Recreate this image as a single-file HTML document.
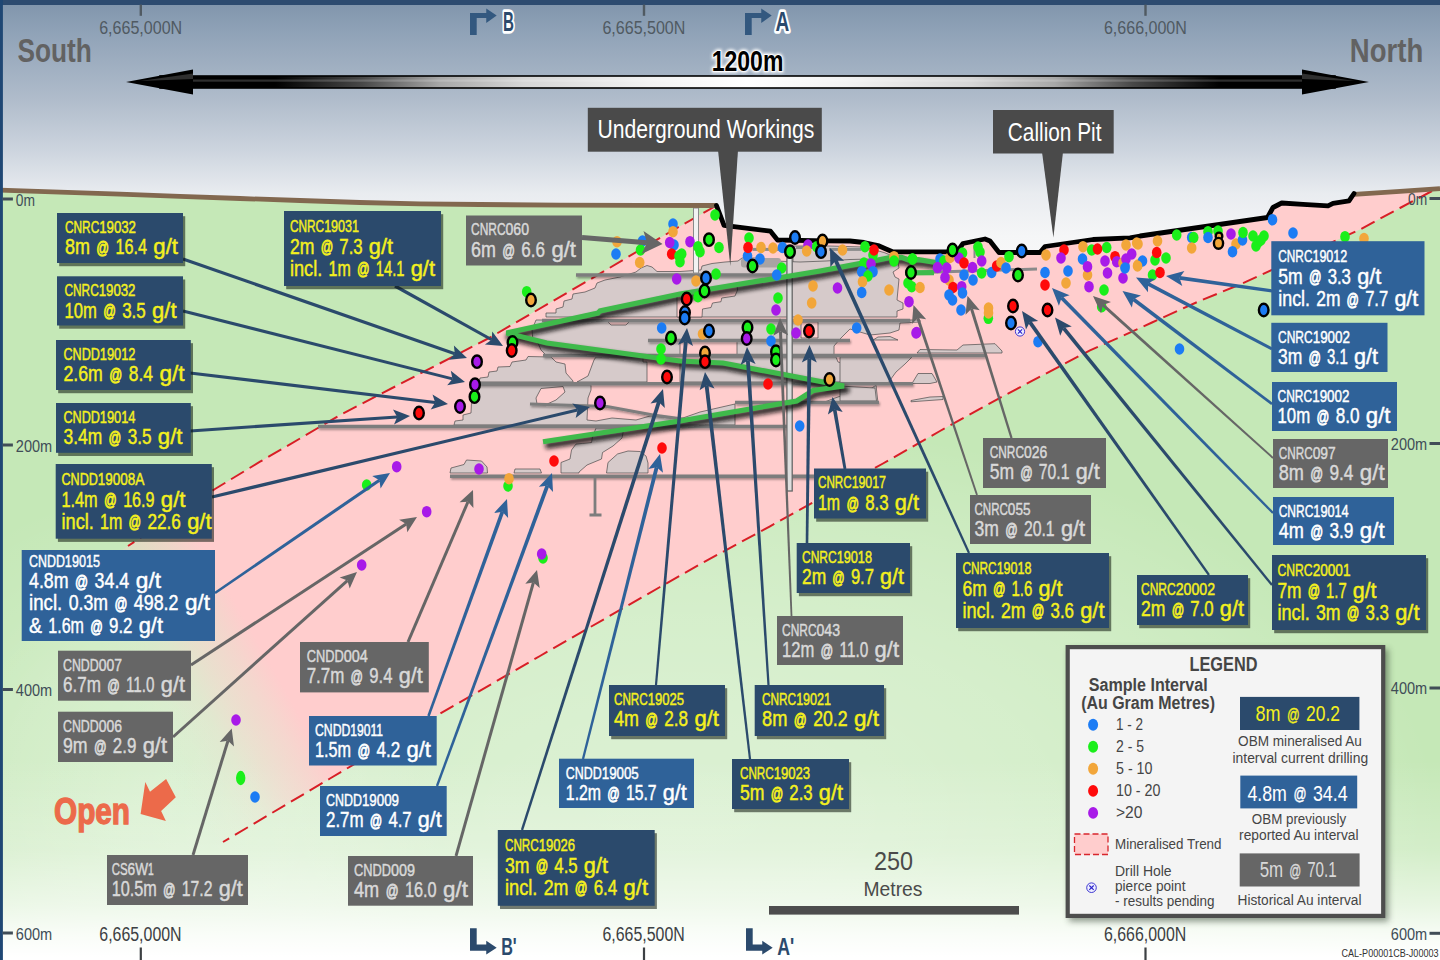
<!DOCTYPE html>
<html><head><meta charset="utf-8"><title>Callion long section</title>
<style>
html,body{margin:0;padding:0;background:#fff;}
body{width:1440px;height:960px;overflow:hidden;font-family:"Liberation Sans",sans-serif;}
svg{display:block;}
text{font-family:"Liberation Sans",sans-serif;}
</style></head><body>
<svg width="1440" height="960" viewBox="0 0 1440 960">
<defs>
<linearGradient id="sky" x1="0" y1="0" x2="0" y2="1">
<stop offset="0" stop-color="#7f94ab"/><stop offset="0.12" stop-color="#8fa2b7"/><stop offset="0.38" stop-color="#b0bccb"/><stop offset="0.57" stop-color="#ccd4de"/><stop offset="0.74" stop-color="#e9ecf0"/><stop offset="0.9" stop-color="#f5f6f7"/><stop offset="1" stop-color="#f8f8f8"/>
</linearGradient>
<linearGradient id="fadeb" x1="0" y1="0" x2="0" y2="1">
<stop offset="0" stop-color="#fff" stop-opacity="0"/><stop offset="0.45" stop-color="#fff" stop-opacity="0.25"/><stop offset="0.725" stop-color="#fff" stop-opacity="0.6"/><stop offset="0.875" stop-color="#fff" stop-opacity="0.87"/><stop offset="0.985" stop-color="#fff" stop-opacity="1"/><stop offset="1" stop-color="#fff" stop-opacity="1"/>
</linearGradient>
<radialGradient id="glow2" cx="0.5" cy="0.5" r="0.5">
<stop offset="0" stop-color="#fff" stop-opacity="0.38"/><stop offset="0.25" stop-color="#fff" stop-opacity="0.356"/><stop offset="0.5" stop-color="#fff" stop-opacity="0.285"/><stop offset="0.7" stop-color="#fff" stop-opacity="0.194"/><stop offset="0.85" stop-color="#fff" stop-opacity="0.105"/><stop offset="1" stop-color="#fff" stop-opacity="0"/>
</radialGradient>
<radialGradient id="fadeo" cx="0.5" cy="0.5" r="0.5">
<stop offset="0" stop-color="#fff" stop-opacity="0.22"/><stop offset="0.5" stop-color="#fff" stop-opacity="0.16"/><stop offset="1" stop-color="#fff" stop-opacity="0"/>
</radialGradient>
<linearGradient id="pinkg" gradientUnits="userSpaceOnUse" x1="350" y1="749" x2="205" y2="832">
<stop offset="0" stop-color="#ffcdcd" stop-opacity="1"/><stop offset="0.16" stop-color="#ffcdcd" stop-opacity="1"/><stop offset="0.30" stop-color="#ffcdcd" stop-opacity="0.74"/><stop offset="0.51" stop-color="#ffcdcd" stop-opacity="0.42"/><stop offset="0.64" stop-color="#ffcdcd" stop-opacity="0.2"/><stop offset="0.8" stop-color="#ffcdcd" stop-opacity="0.07"/><stop offset="1" stop-color="#ffcdcd" stop-opacity="0"/>
</linearGradient>
<linearGradient id="shaft" gradientUnits="userSpaceOnUse" x1="126" y1="0" x2="1369" y2="0">
<stop offset="0" stop-color="#000"/><stop offset="0.12" stop-color="#000"/><stop offset="0.19" stop-color="#484848"/><stop offset="0.253" stop-color="#a8a8a8"/><stop offset="0.32" stop-color="#d6d6d6"/><stop offset="0.42" stop-color="#f2f2f2"/><stop offset="0.5" stop-color="#fff"/><stop offset="0.58" stop-color="#f2f2f2"/><stop offset="0.68" stop-color="#d6d6d6"/><stop offset="0.747" stop-color="#a8a8a8"/><stop offset="0.81" stop-color="#484848"/><stop offset="0.88" stop-color="#000"/><stop offset="1" stop-color="#000"/>
</linearGradient>
<linearGradient id="gloss" x1="0" y1="0" x2="0" y2="1">
<stop offset="0" stop-color="#000"/><stop offset="0.4" stop-color="#4a4a4a"/><stop offset="0.6" stop-color="#2a2a2a"/><stop offset="1" stop-color="#000"/>
</linearGradient>
<filter id="sh" x="-10%" y="-10%" width="125%" height="130%"><feGaussianBlur stdDeviation="0.55"/></filter>
<filter id="sh3" x="-10%" y="-10%" width="125%" height="125%"><feGaussianBlur stdDeviation="3"/></filter>
<filter id="gsh" x="-5%" y="-20%" width="110%" height="150%"><feGaussianBlur stdDeviation="1.9"/></filter>
<filter id="lsh" x="-2%" y="-2%" width="104%" height="106%"><feDropShadow dx="1" dy="1.6" stdDeviation="0.9" flood-color="#000" flood-opacity="0.38"/></filter>
<filter id="glow" x="-20%" y="-40%" width="140%" height="180%"><feGaussianBlur stdDeviation="1.6"/></filter>
</defs>

<rect x="0" y="0" width="1440" height="960" fill="#c5e8b7"/>
<rect x="0" y="0" width="1440" height="262" fill="url(#sky)"/>
<polygon points="0.0,190.1 60.0,192.1 120.0,194.2 180.0,196.3 240.0,198.5 300.0,200.5 360.0,202.5 420.0,203.8 480.0,204.5 560.0,205.2 640.0,205.4 716.5,205.5 724.0,225.3 736.0,226.8 770.5,231.2 777.5,240.0 826.0,240.8 850.0,241.0 864.0,242.5 878.0,245.5 886.0,249.0 892.5,251.8 957.0,251.8 963.0,243.5 985.0,239.0 990.0,241.0 999.0,252.5 1040.0,252.5 1045.0,246.5 1093.0,239.5 1130.0,237.8 1140.0,236.0 1267.5,217.5 1273.0,207.5 1281.7,203.0 1303.0,204.3 1328.0,205.8 1333.0,203.3 1349.0,200.8 1354.0,193.5 1400.0,191.3 1440.0,188.7 1440.0,960.0 0.0,960.0" fill="#c5e8b7"/>
<ellipse cx="680" cy="812" rx="760" ry="395" fill="url(#glow2)"/>
<circle cx="150" cy="790" r="300" fill="url(#fadeo)"/>
<rect x="0" y="760" width="1440" height="200" fill="url(#fadeb)"/>
<polygon points="716.5,205.5 724.0,225.3 736.0,226.8 770.5,231.2 777.5,240.0 826.0,240.8 850.0,241.0 864.0,242.5 878.0,245.5 886.0,249.0 892.5,251.8 957.0,251.8 963.0,243.5 985.0,239.0 990.0,241.0 999.0,252.5 1040.0,252.5 1045.0,246.5 1093.0,239.5 1130.0,237.8 1140.0,236.0 1267.5,217.5 1273.0,207.5 1281.7,203.0 1303.0,204.3 1328.0,205.8 1333.0,203.3 1349.0,200.8 1354.0,193.5 1400.0,191.3 1432.0,190.0 1400.0,208.0 1360.0,229.5 1300.0,257.0 1240.0,284.5 1200.0,300.8 1152.0,322.5 1120.0,337.1 1090.0,350.3 1000.0,397.8 940.0,431.0 883.0,463.5 770.0,526.3 700.0,564.2 660.0,587.0 540.0,656.0 437.5,715.2 330.0,778.5 223.0,842.0 150.0,886.0 40.0,606.0 128.0,546.0 215.0,489.0 260.0,461.7 300.0,438.5 340.0,415.0 490.0,337.5 587.5,281.0 670.0,232.0" fill="url(#pinkg)"/>
<polyline points="716.5,205.5 670.0,232.0 587.5,281.0 490.0,337.5 340.0,415.0 300.0,438.5 260.0,461.7 215.0,489.0 128.0,546.0" fill="none" stroke="#d81e26" stroke-width="2" stroke-dasharray="15 6.7"/>
<polyline points="1432.0,191.0 1400.0,208.0 1360.0,229.5 1300.0,257.0 1240.0,284.5 1200.0,300.8 1152.0,322.5 1120.0,337.1 1090.0,350.3 1000.0,397.8 940.0,431.0 883.0,463.5 770.0,526.3 700.0,564.2 660.0,587.0 540.0,656.0 437.5,715.2 330.0,778.5 223.0,842.0" fill="none" stroke="#d81e26" stroke-width="2" stroke-dasharray="15 6.7"/>
<g><polygon points="793.0,246.0 829.0,246.0 864.0,247.0 884.0,252.5 893.0,256.0 893.0,258.5 861.0,264.0 820.0,271.5 793.0,276.0" fill="#d6caca" stroke="#4a4a4a" stroke-width="0.7"/><polygon points="546.0,317.0 546.0,313.0 556.0,313.0 556.0,309.0 563.0,307.0 564.0,301.0 572.0,299.0 573.0,294.0 585.0,292.0 595.0,288.0 597.0,283.0 605.0,280.0 620.0,277.0 636.0,272.0 641.0,268.0 647.0,265.5 652.0,267.0 657.0,271.5 680.0,271.5 701.0,270.0 702.0,266.0 712.0,263.5 725.0,262.0 738.0,261.0 742.0,258.0 760.0,258.0 775.0,261.0 800.0,262.0 826.0,261.0 850.0,259.5 893.0,258.5 898.0,262.0 899.0,268.0 893.0,272.0 895.0,277.0 899.0,279.0 897.0,300.0 903.0,303.0 903.0,309.0 897.0,311.0 897.0,317.0" fill="#d6caca" stroke="#4a4a4a" stroke-width="0.7"/><polygon points="536.0,320.0 920.0,320.0 920.0,322.0 900.0,323.0 899.0,330.0 890.0,333.0 870.0,335.0 850.0,329.0 846.0,333.0 840.0,339.0 834.0,346.0 834.0,355.0 546.0,355.0 541.0,350.0 538.0,343.0 533.0,341.0 532.0,330.0" fill="#d6caca" stroke="#4a4a4a" stroke-width="0.7"/><polygon points="479.0,382.0 480.0,378.0 488.0,377.0 489.0,372.0 497.0,371.0 498.0,367.0 510.0,366.5 512.0,362.0 526.0,360.0 528.0,356.5 551.0,357.0 556.0,362.0 565.0,364.0 566.0,373.0 573.0,381.0 573.0,382.0" fill="#d6caca" stroke="#4a4a4a" stroke-width="0.7"/><polygon points="577.0,382.0 588.0,376.0 594.0,360.0 596.0,357.0 643.0,357.0 643.0,362.0 647.0,362.0 647.0,382.0" fill="#d6caca" stroke="#4a4a4a" stroke-width="0.7"/><polygon points="680.0,363.0 702.0,363.0 706.0,357.0 787.0,357.0 793.0,357.0 836.0,357.0 838.0,362.0 846.0,364.0 852.0,360.0 870.0,360.0 878.0,366.0 877.0,372.0 868.0,378.0 858.0,382.0 680.0,382.0" fill="#d6caca" stroke="#4a4a4a" stroke-width="0.7"/><polygon points="454.0,425.0 455.0,421.0 463.0,420.0 463.0,415.0 471.0,413.0 472.0,391.0 479.0,390.0 480.0,385.0 591.0,385.0 591.0,390.0 588.0,398.0 587.0,420.0 596.0,421.0 612.0,418.0 636.0,420.0 650.0,416.0 680.0,419.0 700.0,412.0 735.0,404.0 735.0,425.0" fill="#d6caca" stroke="#4a4a4a" stroke-width="0.7"/><polygon points="735.0,403.0 790.0,403.0 822.0,403.0 835.0,398.0 852.0,392.0 872.0,388.0 876.0,385.0 878.0,403.0 735.0,403.0" fill="#d6caca" stroke="#4a4a4a" stroke-width="0.7"/><polygon points="561.0,473.0 561.0,462.5 570.0,459.0 571.5,450.0 576.0,444.0 591.5,442.5 592.5,437.0 596.0,428.0 623.0,428.0 623.0,433.0 622.0,438.0 613.0,446.0 602.5,452.5 601.5,459.0 587.0,465.0 579.0,472.0 579.0,473.0" fill="#d6caca" stroke="#4a4a4a" stroke-width="0.7"/><polygon points="606.5,473.0 608.0,462.5 617.5,454.0 628.0,451.0 640.0,451.5 646.0,456.0 648.0,463.0 648.0,473.0" fill="#d6caca" stroke="#4a4a4a" stroke-width="0.7"/><polygon points="450.0,473.0 451.0,468.0 464.0,464.5 466.5,460.0 481.5,461.0 487.0,467.0 487.5,473.0" fill="#d6caca" stroke="#4a4a4a" stroke-width="0.7"/><polygon points="514.0,473.0 515.0,469.0 540.0,469.0 541.5,473.0" fill="#d6caca" stroke="#4a4a4a" stroke-width="0.7"/><polygon points="873.0,340.0 878.0,337.0 890.0,336.5 898.0,340.0" fill="#d6caca" stroke="#4a4a4a" stroke-width="0.7"/><polygon points="917.0,353.0 920.0,349.5 957.0,350.0 963.0,345.0 995.0,343.7 1002.0,351.0 1002.0,353.0" fill="#d6caca" stroke="#4a4a4a" stroke-width="0.7"/><polygon points="912.0,383.5 918.0,373.5 932.0,373.5 937.0,382.0 930.0,383.5" fill="#d6caca" stroke="#4a4a4a" stroke-width="0.7"/><polygon points="911.0,400.5 930.0,397.0 943.0,396.5 943.0,399.5 911.0,401.8" fill="#d6caca" stroke="#4a4a4a" stroke-width="0.7"/><polygon points="840.0,357.0 912.0,357.0 905.0,364.0 896.0,372.0 888.0,383.0 840.0,383.0" fill="#d6caca" stroke="#4a4a4a" stroke-width="0.7"/><polygon points="840.0,386.0 875.0,388.0 876.5,401.0 840.0,401.0" fill="#d6caca" stroke="#4a4a4a" stroke-width="0.7"/><polygon points="801.0,322.0 818.0,322.0 818.0,338.0 801.0,338.0" fill="#ffcdcd" stroke="#4a4a4a" stroke-width="0.7"/><polygon points="536.0,398.0 541.0,388.5 563.0,386.5 565.0,392.0 556.0,400.0 545.0,405.0 537.0,404.0" fill="#ffcdcd" stroke="#4a4a4a" stroke-width="0.7"/><polygon points="607.0,321.0 630.0,321.0 626.0,325.0 611.0,325.0" fill="#ffcdcd" stroke="#4a4a4a" stroke-width="0.7"/><polygon points="680.0,340.0 737.0,340.0 737.0,355.0 680.0,355.0" fill="#ffcdcd" stroke="#4a4a4a" stroke-width="0.7"/><polygon points="677.0,296.0 737.0,285.0 737.5,290.0 735.0,296.0 721.7,298.0 721.0,301.7 712.5,303.0 711.0,307.5 702.5,309.0 702.0,317.0 677.0,317.0" fill="#ffcdcd" stroke="#4a4a4a" stroke-width="0.7"/><rect x="741" y="258" width="40" height="9.5" rx="3" fill="#a9a3a3"/><line x1="752.5" y1="249.4" x2="784.0" y2="249.4" stroke="#8c8c8c" stroke-width="3"/><line x1="829.0" y1="249.4" x2="861.0" y2="249.4" stroke="#8c8c8c" stroke-width="3"/><line x1="796.0" y1="247.5" x2="822.0" y2="247.5" stroke="#8c8c8c" stroke-width="3"/><line x1="905" y1="273" x2="1037" y2="269" stroke="#8a8a8a" stroke-width="3"/><line x1="974.5" y1="245" x2="974.5" y2="258" stroke="#8a8a8a" stroke-width="2"/><g filter="url(#lsh)"><line x1="576.0" y1="275.0" x2="778.0" y2="275.0" stroke="#7d7d7d" stroke-width="3.4"/><line x1="542.0" y1="320.5" x2="910.0" y2="320.5" stroke="#7d7d7d" stroke-width="3.4"/><line x1="648.0" y1="340.5" x2="850.0" y2="340.5" stroke="#7d7d7d" stroke-width="3.4"/><line x1="543.0" y1="355.5" x2="985.0" y2="355.5" stroke="#7d7d7d" stroke-width="3.4"/><line x1="474.0" y1="383.8" x2="913.0" y2="383.8" stroke="#7d7d7d" stroke-width="3.4"/><line x1="735.0" y1="402.5" x2="879.0" y2="402.5" stroke="#7d7d7d" stroke-width="3.4"/><line x1="318.0" y1="426.5" x2="787.0" y2="426.5" stroke="#7d7d7d" stroke-width="3.4"/><line x1="450.0" y1="476.3" x2="815.0" y2="476.3" stroke="#7d7d7d" stroke-width="3.4"/><polyline points="530,404 607,406.5 653,415 690,420" fill="none" stroke="#7d7d7d" stroke-width="3"/></g><rect x="693.5" y="208" width="5" height="65" fill="#f2f2f2" stroke="#8a8a8a" stroke-width="1"/><rect x="786.9" y="258" width="5.3" height="233" fill="#dedede" stroke="#666" stroke-width="1.3"/><rect x="593.6" y="476" width="2.8" height="38" fill="#7d7d7d"/><rect x="589.5" y="513.5" width="12" height="3" fill="#7d7d7d"/><polyline points="543.0,441.7 680.0,421.0 796.7,401.0 813.0,390.5 844.0,386.0 723.0,363.0 680.0,361.0 546.7,343.0 506.5,333.0 598.0,313.0 600.0,311.0 680.0,294.0 820.0,271.0 861.0,263.4 889.0,257.8 901.5,257.3 908.0,259.8 918.4,259.7 936.0,262.5" fill="none" stroke="#111" stroke-width="6.5" opacity="0.85" filter="url(#gsh)" transform="translate(2.5,4)" stroke-linejoin="round"/><polyline points="543.0,441.7 680.0,421.0 796.7,401.0 813.0,390.5 844.0,386.0 723.0,363.0 680.0,361.0 546.7,343.0 506.5,333.0 598.0,313.0 600.0,311.0 680.0,294.0 820.0,271.0 861.0,263.4 889.0,257.8 901.5,257.3 908.0,259.8 918.4,259.7 936.0,262.5" fill="none" stroke="#3fba4b" stroke-width="5.2" stroke-linejoin="miter"/><polyline points="905.0,272.8 934.0,272.6" fill="none" stroke="#3fba4b" stroke-width="5.2"/></g>
<polyline points="0.0,190.1 60.0,192.1 120.0,194.2 180.0,196.3 240.0,198.5 300.0,200.5 360.0,202.5 420.0,203.8 480.0,204.5 560.0,205.2 640.0,205.4 716.5,205.5" fill="none" stroke="#82684f" stroke-width="4.8" stroke-linejoin="round"/>
<polyline points="1354.0,194.3 1400.0,191.3 1440.0,188.7" fill="none" stroke="#82684f" stroke-width="4.8"/>
<polyline points="716.5,205.5 724.0,225.3 736.0,226.8 770.5,231.2 777.5,240.0 826.0,240.8 850.0,241.0 864.0,242.5 878.0,245.5 886.0,249.0 892.5,251.8 957.0,251.8 963.0,243.5 985.0,239.0 990.0,241.0 999.0,252.5 1040.0,252.5 1045.0,246.5 1093.0,239.5 1130.0,237.8 1140.0,236.0 1267.5,217.5 1273.0,207.5 1281.7,203.0 1303.0,204.3 1328.0,205.8 1333.0,203.3 1349.0,200.8 1354.0,193.5" fill="none" stroke="#000" stroke-width="4.8" stroke-linejoin="round" stroke-linecap="round"/>
<rect x="0" y="0" width="1440" height="5" fill="#2d4b70"/>
<rect x="0" y="0" width="2.9" height="960" fill="#1f4774"/>
<ellipse cx="366.7" cy="485.0" rx="4.8" ry="5.8" fill="#1aef1a"/>
<ellipse cx="396.7" cy="466.7" rx="4.8" ry="5.8" fill="#a81ae8"/>
<ellipse cx="426.7" cy="511.7" rx="4.8" ry="5.8" fill="#a81ae8"/>
<ellipse cx="361.7" cy="565.0" rx="4.8" ry="5.8" fill="#a81ae8"/>
<ellipse cx="236.0" cy="720.0" rx="4.8" ry="5.8" fill="#a81ae8"/>
<ellipse cx="240.7" cy="778.0" rx="4.7" ry="7.2" fill="#1aef1a"/>
<ellipse cx="255.0" cy="797.0" rx="4.8" ry="5.8" fill="#1c7cf4"/>
<ellipse cx="543.0" cy="558.0" rx="4.8" ry="5.8" fill="#1aef1a"/>
<ellipse cx="541.7" cy="554.0" rx="4.8" ry="5.8" fill="#a81ae8"/>
<ellipse cx="479.0" cy="469.0" rx="4.8" ry="5.8" fill="#a81ae8"/>
<ellipse cx="508.0" cy="486.0" rx="4.8" ry="5.8" fill="#1aef1a"/>
<ellipse cx="509.0" cy="478.7" rx="4.8" ry="5.8" fill="#f2a63a"/>
<ellipse cx="554.0" cy="461.0" rx="4.8" ry="5.8" fill="#ff0a0a"/>
<ellipse cx="662.0" cy="448.0" rx="4.8" ry="5.8" fill="#ff0a0a"/>
<ellipse cx="419.0" cy="413.0" rx="4.8" ry="6.2" fill="#ff0a0a" stroke="#000" stroke-width="2.4"/>
<ellipse cx="460.0" cy="406.5" rx="4.8" ry="6.2" fill="#a81ae8" stroke="#000" stroke-width="2.4"/>
<ellipse cx="474.5" cy="396.7" rx="4.8" ry="6.2" fill="#1aef1a" stroke="#000" stroke-width="2.4"/>
<ellipse cx="475.0" cy="384.7" rx="4.8" ry="6.2" fill="#a81ae8" stroke="#000" stroke-width="2.4"/>
<ellipse cx="477.0" cy="361.7" rx="4.8" ry="6.2" fill="#a81ae8" stroke="#000" stroke-width="2.4"/>
<ellipse cx="512.5" cy="342.5" rx="4.8" ry="6.2" fill="#1aef1a" stroke="#000" stroke-width="2.4"/>
<ellipse cx="511.7" cy="350.5" rx="4.8" ry="6.2" fill="#ff0a0a" stroke="#000" stroke-width="2.4"/>
<ellipse cx="600.0" cy="403.0" rx="4.8" ry="6.2" fill="#a81ae8" stroke="#000" stroke-width="2.4"/>
<ellipse cx="526.7" cy="291.7" rx="4.8" ry="5.8" fill="#1aef1a"/>
<ellipse cx="531.0" cy="300.0" rx="4.8" ry="6.2" fill="#f2a63a" stroke="#000" stroke-width="2.4"/>
<ellipse cx="617.0" cy="241.7" rx="4.8" ry="5.8" fill="#f2a63a"/>
<ellipse cx="616.0" cy="254.0" rx="4.8" ry="5.8" fill="#1c7cf4"/>
<ellipse cx="642.5" cy="241.0" rx="4.8" ry="5.8" fill="#1c7cf4"/>
<ellipse cx="640.5" cy="250.0" rx="4.8" ry="5.8" fill="#1aef1a"/>
<ellipse cx="639.7" cy="262.5" rx="4.8" ry="5.8" fill="#f2a63a"/>
<ellipse cx="673.0" cy="224.0" rx="4.8" ry="5.8" fill="#1c7cf4"/>
<ellipse cx="673.0" cy="231.7" rx="4.8" ry="5.8" fill="#f2a63a"/>
<ellipse cx="674.0" cy="245.0" rx="4.8" ry="5.8" fill="#1c7cf4"/>
<ellipse cx="669.7" cy="242.5" rx="4.8" ry="5.8" fill="#a81ae8"/>
<ellipse cx="671.7" cy="254.0" rx="4.8" ry="5.8" fill="#ff0a0a"/>
<ellipse cx="679.0" cy="256.0" rx="4.8" ry="5.8" fill="#1aef1a"/>
<ellipse cx="676.7" cy="279.0" rx="4.8" ry="5.8" fill="#a81ae8"/>
<ellipse cx="661.7" cy="328.0" rx="4.8" ry="5.8" fill="#1c7cf4"/>
<ellipse cx="671.0" cy="338.0" rx="4.8" ry="6.2" fill="#1aef1a" stroke="#000" stroke-width="2.4"/>
<ellipse cx="661.0" cy="349.0" rx="4.8" ry="5.8" fill="#1aef1a"/>
<ellipse cx="661.0" cy="359.0" rx="4.8" ry="5.8" fill="#1aef1a"/>
<ellipse cx="667.0" cy="377.0" rx="4.8" ry="6.2" fill="#ff0a0a" stroke="#000" stroke-width="2.4"/>
<ellipse cx="690.0" cy="241.7" rx="4.8" ry="5.8" fill="#a81ae8"/>
<ellipse cx="681.7" cy="254.0" rx="4.8" ry="5.8" fill="#1aef1a"/>
<ellipse cx="680.0" cy="261.7" rx="4.8" ry="5.8" fill="#1aef1a"/>
<ellipse cx="698.0" cy="246.7" rx="4.8" ry="5.8" fill="#1aef1a"/>
<ellipse cx="700.0" cy="251.7" rx="4.8" ry="5.8" fill="#1aef1a"/>
<ellipse cx="709.0" cy="239.7" rx="4.8" ry="6.2" fill="#1aef1a" stroke="#000" stroke-width="2.4"/>
<ellipse cx="715.0" cy="215.0" rx="4.8" ry="5.8" fill="#1aef1a"/>
<ellipse cx="719.0" cy="247.5" rx="4.8" ry="5.8" fill="#1aef1a"/>
<ellipse cx="749.0" cy="238.0" rx="4.8" ry="5.8" fill="#1aef1a"/>
<ellipse cx="747.5" cy="256.0" rx="4.8" ry="5.8" fill="#1c7cf4"/>
<ellipse cx="748.0" cy="247.5" rx="4.8" ry="5.8" fill="#ff0a0a"/>
<ellipse cx="761.0" cy="247.5" rx="4.8" ry="5.8" fill="#f2a63a"/>
<ellipse cx="760.0" cy="259.0" rx="4.8" ry="5.8" fill="#1c7cf4"/>
<ellipse cx="752.5" cy="266.0" rx="4.8" ry="6.2" fill="#1aef1a" stroke="#000" stroke-width="2.4"/>
<ellipse cx="773.0" cy="248.0" rx="4.8" ry="5.8" fill="#f2a63a"/>
<ellipse cx="782.5" cy="247.5" rx="4.8" ry="5.8" fill="#1c7cf4"/>
<ellipse cx="790.0" cy="251.7" rx="4.8" ry="6.2" fill="#1aef1a" stroke="#000" stroke-width="2.4"/>
<ellipse cx="795.0" cy="237.5" rx="4.8" ry="6.2" fill="#1c7cf4" stroke="#000" stroke-width="2.4"/>
<ellipse cx="808.0" cy="245.0" rx="4.8" ry="5.8" fill="#a81ae8"/>
<ellipse cx="806.7" cy="251.0" rx="4.8" ry="5.8" fill="#f2a63a"/>
<ellipse cx="816.7" cy="246.7" rx="4.8" ry="5.8" fill="#1aef1a"/>
<ellipse cx="822.5" cy="241.0" rx="4.8" ry="6.2" fill="#f2a63a" stroke="#000" stroke-width="2.4"/>
<ellipse cx="821.0" cy="251.7" rx="4.8" ry="6.2" fill="#1c7cf4" stroke="#000" stroke-width="2.4"/>
<ellipse cx="842.5" cy="250.0" rx="4.8" ry="5.8" fill="#f2a63a"/>
<ellipse cx="865.0" cy="246.7" rx="4.8" ry="5.8" fill="#1aef1a"/>
<ellipse cx="873.0" cy="255.0" rx="4.8" ry="5.8" fill="#1aef1a"/>
<ellipse cx="874.0" cy="250.0" rx="4.8" ry="5.8" fill="#ff0a0a"/>
<ellipse cx="864.0" cy="263.0" rx="4.8" ry="5.8" fill="#1aef1a"/>
<ellipse cx="871.0" cy="264.0" rx="4.8" ry="5.8" fill="#a81ae8"/>
<ellipse cx="861.7" cy="271.7" rx="4.8" ry="5.8" fill="#1c7cf4"/>
<ellipse cx="873.0" cy="271.7" rx="4.8" ry="5.8" fill="#1c7cf4"/>
<ellipse cx="868.0" cy="276.0" rx="4.8" ry="5.8" fill="#1aef1a"/>
<ellipse cx="862.5" cy="281.7" rx="4.8" ry="5.8" fill="#f2a63a"/>
<ellipse cx="861.7" cy="292.5" rx="4.8" ry="5.8" fill="#1c7cf4"/>
<ellipse cx="894.0" cy="256.7" rx="4.8" ry="5.8" fill="#f2a63a"/>
<ellipse cx="894.0" cy="261.0" rx="4.8" ry="5.8" fill="#1aef1a"/>
<ellipse cx="912.5" cy="259.0" rx="4.8" ry="5.8" fill="#1aef1a"/>
<ellipse cx="908.0" cy="283.0" rx="4.8" ry="5.8" fill="#1aef1a"/>
<ellipse cx="911.7" cy="286.7" rx="4.8" ry="5.8" fill="#1aef1a"/>
<ellipse cx="911.0" cy="272.5" rx="4.8" ry="6.2" fill="#1aef1a" stroke="#000" stroke-width="2.4"/>
<ellipse cx="889.0" cy="290.0" rx="4.8" ry="5.8" fill="#f2a63a"/>
<ellipse cx="909.0" cy="301.7" rx="4.8" ry="5.8" fill="#a81ae8"/>
<ellipse cx="837.5" cy="288.0" rx="4.8" ry="5.8" fill="#a81ae8"/>
<ellipse cx="813.0" cy="286.0" rx="4.8" ry="5.8" fill="#f2a63a"/>
<ellipse cx="811.7" cy="303.0" rx="4.8" ry="5.8" fill="#f2a63a"/>
<ellipse cx="798.0" cy="320.0" rx="4.8" ry="5.8" fill="#f2a63a"/>
<ellipse cx="796.0" cy="333.0" rx="4.8" ry="5.8" fill="#a81ae8"/>
<ellipse cx="809.0" cy="331.0" rx="4.8" ry="6.2" fill="#ff0a0a" stroke="#000" stroke-width="2.4"/>
<ellipse cx="856.7" cy="328.0" rx="4.8" ry="5.8" fill="#1c7cf4"/>
<ellipse cx="916.7" cy="332.5" rx="4.8" ry="5.8" fill="#a81ae8"/>
<ellipse cx="781.7" cy="268.0" rx="4.8" ry="5.8" fill="#1aef1a"/>
<ellipse cx="776.7" cy="275.0" rx="4.8" ry="5.8" fill="#1c7cf4"/>
<ellipse cx="778.0" cy="298.0" rx="4.8" ry="5.8" fill="#1aef1a"/>
<ellipse cx="776.0" cy="310.0" rx="4.8" ry="5.8" fill="#a81ae8"/>
<ellipse cx="771.0" cy="329.0" rx="4.8" ry="5.8" fill="#1aef1a"/>
<ellipse cx="771.0" cy="341.0" rx="4.8" ry="5.8" fill="#1c7cf4"/>
<ellipse cx="776.0" cy="351.7" rx="4.8" ry="6.2" fill="#1aef1a" stroke="#000" stroke-width="2.4"/>
<ellipse cx="776.0" cy="360.0" rx="4.8" ry="6.2" fill="#1aef1a" stroke="#000" stroke-width="2.4"/>
<ellipse cx="747.5" cy="327.5" rx="4.8" ry="6.2" fill="#1aef1a" stroke="#000" stroke-width="2.4"/>
<ellipse cx="746.7" cy="338.5" rx="4.8" ry="6.2" fill="#a81ae8" stroke="#000" stroke-width="2.4"/>
<ellipse cx="702.5" cy="334.0" rx="4.8" ry="5.8" fill="#f2a63a"/>
<ellipse cx="709.0" cy="331.0" rx="4.8" ry="6.2" fill="#1c7cf4" stroke="#000" stroke-width="2.4"/>
<ellipse cx="696.0" cy="281.0" rx="4.8" ry="5.8" fill="#f2a63a"/>
<ellipse cx="716.0" cy="274.0" rx="4.8" ry="5.8" fill="#1aef1a"/>
<ellipse cx="706.0" cy="278.0" rx="4.8" ry="6.2" fill="#1c7cf4" stroke="#000" stroke-width="2.4"/>
<ellipse cx="698.0" cy="296.7" rx="4.8" ry="5.8" fill="#1aef1a"/>
<ellipse cx="704.5" cy="291.0" rx="4.8" ry="6.2" fill="#1aef1a" stroke="#000" stroke-width="2.4"/>
<ellipse cx="686.7" cy="299.0" rx="4.8" ry="6.2" fill="#ff0a0a" stroke="#000" stroke-width="2.4"/>
<ellipse cx="685.0" cy="312.5" rx="4.8" ry="6.2" fill="#1c7cf4" stroke="#000" stroke-width="2.4"/>
<ellipse cx="684.7" cy="318.0" rx="4.8" ry="6.2" fill="#1c7cf4" stroke="#000" stroke-width="2.4"/>
<ellipse cx="705.0" cy="353.0" rx="4.8" ry="6.2" fill="#f2a63a" stroke="#000" stroke-width="2.4"/>
<ellipse cx="705.0" cy="361.7" rx="4.8" ry="6.2" fill="#ff0a0a" stroke="#000" stroke-width="2.4"/>
<ellipse cx="768.0" cy="384.0" rx="4.8" ry="5.8" fill="#ff0a0a"/>
<ellipse cx="829.5" cy="379.5" rx="4.8" ry="6.2" fill="#f2a63a" stroke="#000" stroke-width="2.4"/>
<ellipse cx="799.7" cy="426.0" rx="4.8" ry="5.8" fill="#1c7cf4"/>
<ellipse cx="912.5" cy="259.0" rx="4.8" ry="5.8" fill="#1aef1a"/>
<ellipse cx="920.0" cy="287.5" rx="4.8" ry="5.8" fill="#f2a63a"/>
<ellipse cx="916.0" cy="333.0" rx="4.8" ry="5.8" fill="#a81ae8"/>
<ellipse cx="940.0" cy="259.0" rx="4.8" ry="5.8" fill="#1c7cf4"/>
<ellipse cx="944.0" cy="261.0" rx="4.8" ry="5.8" fill="#1aef1a"/>
<ellipse cx="950.0" cy="257.5" rx="4.8" ry="5.8" fill="#f2a63a"/>
<ellipse cx="937.5" cy="267.5" rx="4.8" ry="5.8" fill="#a81ae8"/>
<ellipse cx="946.7" cy="268.0" rx="4.8" ry="5.8" fill="#a81ae8"/>
<ellipse cx="949.0" cy="280.0" rx="4.8" ry="5.8" fill="#f2a63a"/>
<ellipse cx="945.0" cy="277.5" rx="4.8" ry="5.8" fill="#a81ae8"/>
<ellipse cx="962.5" cy="253.0" rx="4.8" ry="5.8" fill="#1aef1a"/>
<ellipse cx="959.0" cy="258.0" rx="4.8" ry="5.8" fill="#a81ae8"/>
<ellipse cx="964.0" cy="263.0" rx="4.8" ry="5.8" fill="#ff0a0a"/>
<ellipse cx="964.0" cy="275.0" rx="4.8" ry="5.8" fill="#1c7cf4"/>
<ellipse cx="972.5" cy="267.5" rx="4.8" ry="5.8" fill="#a81ae8"/>
<ellipse cx="973.0" cy="280.0" rx="4.8" ry="5.8" fill="#1c7cf4"/>
<ellipse cx="978.0" cy="247.0" rx="4.8" ry="5.8" fill="#1aef1a"/>
<ellipse cx="980.0" cy="252.0" rx="4.8" ry="5.8" fill="#1aef1a"/>
<ellipse cx="981.7" cy="261.0" rx="4.8" ry="5.8" fill="#a81ae8"/>
<ellipse cx="981.7" cy="273.0" rx="4.8" ry="5.8" fill="#1aef1a"/>
<ellipse cx="953.0" cy="287.5" rx="4.8" ry="5.8" fill="#ff0a0a"/>
<ellipse cx="961.7" cy="286.7" rx="4.8" ry="5.8" fill="#a81ae8"/>
<ellipse cx="962.5" cy="293.0" rx="4.8" ry="5.8" fill="#1c7cf4"/>
<ellipse cx="949.0" cy="295.0" rx="4.8" ry="5.8" fill="#1c7cf4"/>
<ellipse cx="952.5" cy="300.0" rx="4.8" ry="5.8" fill="#1c7cf4"/>
<ellipse cx="961.0" cy="310.0" rx="4.8" ry="5.8" fill="#1c7cf4"/>
<ellipse cx="991.7" cy="272.5" rx="4.8" ry="5.8" fill="#1c7cf4"/>
<ellipse cx="996.7" cy="266.0" rx="4.8" ry="5.8" fill="#ff0a0a"/>
<ellipse cx="1001.0" cy="262.5" rx="4.8" ry="5.8" fill="#f2a63a"/>
<ellipse cx="1006.0" cy="268.0" rx="4.8" ry="5.8" fill="#1c7cf4"/>
<ellipse cx="1009.0" cy="256.7" rx="4.8" ry="5.8" fill="#1aef1a"/>
<ellipse cx="988.3" cy="318.3" rx="4.8" ry="5.8" fill="#1aef1a"/>
<ellipse cx="988.5" cy="308.0" rx="4.8" ry="5.8" fill="#f2a63a"/>
<ellipse cx="988.5" cy="313.0" rx="4.8" ry="5.8" fill="#f2a63a"/>
<ellipse cx="952.5" cy="250.0" rx="4.8" ry="6.2" fill="#1aef1a" stroke="#000" stroke-width="2.4"/>
<ellipse cx="1018.0" cy="275.0" rx="4.8" ry="6.2" fill="#1aef1a" stroke="#000" stroke-width="2.4"/>
<ellipse cx="1021.7" cy="251.0" rx="4.8" ry="6.2" fill="#1c7cf4" stroke="#000" stroke-width="2.4"/>
<ellipse cx="1013.0" cy="306.0" rx="4.8" ry="6.2" fill="#ff0a0a" stroke="#000" stroke-width="2.4"/>
<ellipse cx="1047.5" cy="310.0" rx="4.8" ry="6.2" fill="#ff0a0a" stroke="#000" stroke-width="2.4"/>
<ellipse cx="1011.0" cy="323.0" rx="4.8" ry="6.2" fill="#1c7cf4" stroke="#000" stroke-width="2.4"/>
<ellipse cx="1046.0" cy="255.0" rx="4.8" ry="5.8" fill="#f2a63a"/>
<ellipse cx="1045.0" cy="272.5" rx="4.8" ry="5.8" fill="#1c7cf4"/>
<ellipse cx="1045.0" cy="285.0" rx="4.8" ry="5.8" fill="#ff0a0a"/>
<ellipse cx="1064.0" cy="250.0" rx="4.8" ry="5.8" fill="#ff0a0a"/>
<ellipse cx="1061.0" cy="258.0" rx="4.8" ry="5.8" fill="#a81ae8"/>
<ellipse cx="1068.0" cy="271.0" rx="4.8" ry="5.8" fill="#1c7cf4"/>
<ellipse cx="1066.0" cy="283.0" rx="4.8" ry="5.8" fill="#f2a63a"/>
<ellipse cx="1083.0" cy="246.7" rx="4.8" ry="5.8" fill="#f2a63a"/>
<ellipse cx="1091.7" cy="250.0" rx="4.8" ry="5.8" fill="#1aef1a"/>
<ellipse cx="1106.7" cy="247.5" rx="4.8" ry="5.8" fill="#1aef1a"/>
<ellipse cx="1097.5" cy="249.0" rx="4.8" ry="5.8" fill="#ff0a0a"/>
<ellipse cx="1082.5" cy="259.0" rx="4.8" ry="5.8" fill="#1c7cf4"/>
<ellipse cx="1087.5" cy="275.0" rx="4.8" ry="5.8" fill="#f2a63a"/>
<ellipse cx="1087.5" cy="266.7" rx="4.8" ry="5.8" fill="#a81ae8"/>
<ellipse cx="1089.0" cy="286.7" rx="4.8" ry="5.8" fill="#a81ae8"/>
<ellipse cx="1105.0" cy="261.0" rx="4.8" ry="5.8" fill="#a81ae8"/>
<ellipse cx="1107.5" cy="273.0" rx="4.8" ry="5.8" fill="#a81ae8"/>
<ellipse cx="1104.0" cy="290.0" rx="4.8" ry="5.8" fill="#1aef1a"/>
<ellipse cx="1101.7" cy="306.7" rx="4.8" ry="5.8" fill="#1aef1a"/>
<ellipse cx="1115.0" cy="256.7" rx="4.8" ry="5.8" fill="#ff0a0a"/>
<ellipse cx="1116.7" cy="261.7" rx="4.8" ry="5.8" fill="#a81ae8"/>
<ellipse cx="1125.0" cy="266.0" rx="4.8" ry="5.8" fill="#1c7cf4"/>
<ellipse cx="1123.0" cy="263.0" rx="4.8" ry="5.8" fill="#f2a63a"/>
<ellipse cx="1123.0" cy="278.0" rx="4.8" ry="5.8" fill="#a81ae8"/>
<ellipse cx="1126.0" cy="245.0" rx="4.8" ry="5.8" fill="#f2a63a"/>
<ellipse cx="1131.7" cy="254.0" rx="4.8" ry="5.8" fill="#a81ae8"/>
<ellipse cx="1136.7" cy="243.0" rx="4.8" ry="5.8" fill="#f2a63a"/>
<ellipse cx="1138.0" cy="265.0" rx="4.8" ry="5.8" fill="#f2a63a"/>
<ellipse cx="1038.0" cy="341.7" rx="4.8" ry="5.8" fill="#1c7cf4"/>
<ellipse cx="1138.0" cy="244.0" rx="4.8" ry="5.8" fill="#f2a63a"/>
<ellipse cx="1126.0" cy="259.0" rx="4.8" ry="5.8" fill="#a81ae8"/>
<ellipse cx="1125.0" cy="268.0" rx="4.8" ry="5.8" fill="#1c7cf4"/>
<ellipse cx="1142.5" cy="261.0" rx="4.8" ry="5.8" fill="#1c7cf4"/>
<ellipse cx="1137.5" cy="266.0" rx="4.8" ry="5.8" fill="#f2a63a"/>
<ellipse cx="1157.5" cy="241.0" rx="4.8" ry="5.8" fill="#f2a63a"/>
<ellipse cx="1155.0" cy="260.0" rx="4.8" ry="5.8" fill="#1aef1a"/>
<ellipse cx="1156.7" cy="252.5" rx="4.8" ry="5.8" fill="#ff0a0a"/>
<ellipse cx="1166.0" cy="258.0" rx="4.8" ry="5.8" fill="#1aef1a"/>
<ellipse cx="1152.5" cy="275.0" rx="4.8" ry="5.8" fill="#1aef1a"/>
<ellipse cx="1160.0" cy="272.5" rx="4.8" ry="5.8" fill="#ff0a0a"/>
<ellipse cx="1176.7" cy="235.0" rx="4.8" ry="5.8" fill="#1aef1a"/>
<ellipse cx="1191.7" cy="237.5" rx="4.8" ry="5.8" fill="#1c7cf4"/>
<ellipse cx="1193.7" cy="237.5" rx="4.8" ry="5.8" fill="#1aef1a"/>
<ellipse cx="1191.7" cy="248.0" rx="4.8" ry="5.8" fill="#f2a63a"/>
<ellipse cx="1208.0" cy="231.7" rx="4.8" ry="5.8" fill="#1aef1a"/>
<ellipse cx="1218.0" cy="231.0" rx="4.8" ry="5.8" fill="#1aef1a"/>
<ellipse cx="1208.0" cy="237.5" rx="4.8" ry="5.8" fill="#1c7cf4"/>
<ellipse cx="1219.0" cy="236.2" rx="3.3" ry="3.6" fill="#f2a63a" stroke="#000" stroke-width="2.4"/>
<ellipse cx="1218.5" cy="243.3" rx="4.6" ry="5.4" fill="#f2a63a" stroke="#000" stroke-width="2.4"/>
<ellipse cx="1231.0" cy="234.0" rx="4.8" ry="5.8" fill="#a81ae8"/>
<ellipse cx="1236.0" cy="244.0" rx="4.8" ry="5.8" fill="#f2a63a"/>
<ellipse cx="1232.5" cy="251.7" rx="4.8" ry="5.8" fill="#1c7cf4"/>
<ellipse cx="1242.5" cy="240.0" rx="4.8" ry="5.8" fill="#1c7cf4"/>
<ellipse cx="1243.0" cy="232.5" rx="4.8" ry="5.8" fill="#1aef1a"/>
<ellipse cx="1253.0" cy="236.0" rx="4.8" ry="5.8" fill="#1aef1a"/>
<ellipse cx="1264.0" cy="236.0" rx="4.8" ry="5.8" fill="#1aef1a"/>
<ellipse cx="1258.5" cy="242.0" rx="4.8" ry="5.8" fill="#1aef1a"/>
<ellipse cx="1256.0" cy="246.0" rx="4.8" ry="5.8" fill="#1aef1a"/>
<ellipse cx="1261.0" cy="240.0" rx="4.8" ry="5.8" fill="#1aef1a"/>
<ellipse cx="1272.5" cy="219.7" rx="4.8" ry="5.8" fill="#1c7cf4"/>
<ellipse cx="1293.0" cy="233.0" rx="4.8" ry="5.8" fill="#1c7cf4"/>
<ellipse cx="1345.0" cy="236.7" rx="4.8" ry="5.8" fill="#1aef1a"/>
<ellipse cx="1364.0" cy="238.5" rx="4.8" ry="5.8" fill="#f2a63a"/>
<ellipse cx="1263.7" cy="310.0" rx="4.8" ry="6.2" fill="#1c7cf4" stroke="#000" stroke-width="2.4"/>
<ellipse cx="1179.5" cy="349.0" rx="4.8" ry="5.8" fill="#1c7cf4"/>
<g stroke="#2a22cc" stroke-width="0.9" fill="#eef"><circle cx="1020.0" cy="331.5" r="4.6"/><path d="M1017.9 329.4L1022.1 333.6M1017.9 333.6L1022.1 329.4" stroke-width="1.1"/></g>
<polygon points="182.5,260.5 454.4,355.2 455.3,352.3 183.5,257.5" fill="#2b4a6c"/><polygon points="467.0,358.0 449.0,359.7 454.8,353.8 453.9,345.5" fill="#2b4a6c"/>
<polygon points="182.6,312.6 452.2,380.3 452.9,377.4 183.4,309.4" fill="#2b4a6c"/><polygon points="465.0,382.0 447.2,385.2 452.5,378.9 450.8,370.7" fill="#2b4a6c"/>
<polygon points="189.8,374.6 435.0,404.0 435.4,401.0 190.2,371.4" fill="#2b4a6c"/><polygon points="448.0,404.0 430.7,409.5 435.2,402.5 432.5,394.6" fill="#2b4a6c"/>
<polygon points="190.1,432.6 397.3,418.4 397.1,415.4 189.9,429.4" fill="#2b4a6c"/><polygon points="410.0,416.0 394.0,424.6 397.2,416.9 393.0,409.6" fill="#2b4a6c"/>
<polygon points="212.4,498.6 577.8,411.4 577.1,408.5 211.6,495.4" fill="#2b4a6c"/><polygon points="590.0,407.0 575.7,418.1 577.5,410.0 572.2,403.5" fill="#2b4a6c"/>
<polygon points="394.2,287.4 491.0,341.1 492.5,338.4 395.8,284.6" fill="#2b4a6c"/><polygon points="503.0,346.0 484.9,344.5 491.7,339.7 492.2,331.4" fill="#2b4a6c"/>
<polygon points="215.7,594.1 380.3,481.6 378.5,478.9 214.3,591.9" fill="#2f6299"/><polygon points="390.0,473.0 380.6,488.5 379.4,480.3 372.2,476.1" fill="#2f6299"/>
<polygon points="429.7,716.4 504.1,512.5 500.6,511.2 427.3,715.6" fill="#2f6299"/><polygon points="507.0,499.0 508.1,518.0 502.4,511.8 494.0,512.9" fill="#2f6299"/>
<polygon points="438.1,786.4 549.1,486.5 545.5,485.2 435.9,785.6" fill="#2f6299"/><polygon points="552.0,473.0 553.0,492.0 547.3,485.8 538.9,486.8" fill="#2f6299"/>
<polygon points="584.1,759.3 658.5,467.7 654.8,466.8 581.9,758.7" fill="#2f6299"/><polygon points="660.0,454.0 663.0,472.8 656.7,467.2 648.4,469.1" fill="#2f6299"/>
<polygon points="191.8,666.3 407.1,525.3 405.4,522.8 190.2,663.7" fill="#666666"/><polygon points="417.0,517.0 407.3,532.3 406.2,524.1 399.1,519.8" fill="#666666"/>
<polygon points="174.0,738.1 348.4,581.7 346.4,579.5 172.0,735.9" fill="#666666"/><polygon points="357.0,572.0 349.7,588.6 347.4,580.6 339.7,577.4" fill="#666666"/>
<polygon points="194.4,855.4 229.4,741.2 226.5,740.4 191.6,854.6" fill="#666666"/><polygon points="231.7,728.5 234.0,746.5 227.9,740.8 219.7,742.1" fill="#666666"/>
<polygon points="409.4,642.6 469.3,502.4 466.6,501.2 406.6,641.4" fill="#666666"/><polygon points="473.0,490.0 473.4,508.1 467.9,501.8 459.6,502.2" fill="#666666"/>
<polygon points="457.4,856.4 534.9,582.8 532.0,582.0 454.6,855.6" fill="#666666"/><polygon points="537.0,570.0 539.7,587.9 533.5,582.4 525.3,583.8" fill="#666666"/>
<polygon points="581.8,240.0 646.7,245.2 647.2,240.3 582.2,235.0" fill="#666666"/><polygon points="662.5,244.0 641.6,253.9 647.0,242.7 643.5,230.9" fill="#666666"/>
<polygon points="792.4,616.0 782.0,331.6 779.0,331.7 790.6,616.0" fill="#666666"/><polygon points="780.0,318.0 788.2,335.2 780.5,331.6 773.2,335.8" fill="#666666"/>
<polygon points="977.9,494.7 919.2,317.5 916.4,318.4 976.1,495.3" fill="#666666"/><polygon points="913.5,305.0 926.2,319.2 917.8,317.9 911.9,324.0" fill="#666666"/>
<polygon points="1012.6,437.7 973.0,308.4 970.1,309.3 1010.4,438.3" fill="#666666"/><polygon points="967.5,295.8 979.8,310.3 971.5,308.8 965.5,314.7" fill="#666666"/>
<polygon points="1273.6,457.3 1104.1,304.0 1102.1,306.2 1272.4,458.7" fill="#666666"/><polygon points="1093.0,296.0 1111.0,302.1 1103.1,305.1 1101.0,313.3" fill="#666666"/>
<polygon points="1272.2,289.4 1179.8,276.0 1179.2,279.8 1271.8,292.6" fill="#2f6299"/><polygon points="1166.0,276.0 1184.4,271.0 1179.5,277.9 1182.3,285.9" fill="#2f6299"/>
<polygon points="1272.7,347.7 1149.0,282.2 1147.2,285.5 1271.3,350.3" fill="#2f6299"/><polygon points="1136.0,277.5 1155.0,279.0 1148.1,283.9 1148.0,292.3" fill="#2f6299"/>
<polygon points="1272.8,402.9 1134.5,297.7 1132.2,300.7 1271.2,405.1" fill="#2f6299"/><polygon points="1122.5,291.0 1141.0,295.6 1133.4,299.2 1131.9,307.5" fill="#2f6299"/>
<polygon points="1273.8,512.2 1062.9,296.4 1060.2,299.1 1272.2,513.8" fill="#2f6299"/><polygon points="1052.0,288.0 1069.6,295.2 1061.6,297.7 1058.9,305.7" fill="#2f6299"/>
<polygon points="970.0,552.5 837.4,259.6 833.9,261.2 968.0,553.5" fill="#2b4a6c"/><polygon points="830.0,248.0 844.1,260.8 835.7,260.4 830.4,267.0" fill="#2b4a6c"/>
<polygon points="1209.9,574.3 1031.4,321.0 1028.3,323.2 1208.1,575.7" fill="#2b4a6c"/><polygon points="1022.0,311.0 1038.2,320.9 1029.9,322.1 1026.0,329.6" fill="#2b4a6c"/>
<polygon points="1272.9,584.3 1065.1,326.9 1062.1,329.3 1271.1,585.7" fill="#2b4a6c"/><polygon points="1055.0,317.5 1071.8,326.4 1063.6,328.1 1060.2,335.8" fill="#2b4a6c"/>
<polygon points="846.4,468.8 836.5,409.4 832.9,410.0 843.6,469.2" fill="#2b4a6c"/><polygon points="832.5,397.0 842.7,412.0 834.7,409.7 827.9,414.5" fill="#2b4a6c"/>
<polygon points="808.3,543.0 811.2,358.7 807.4,358.6 805.7,543.0" fill="#2b4a6c"/><polygon points="809.5,345.0 816.8,362.6 809.3,358.6 801.8,362.4" fill="#2b4a6c"/>
<polygon points="769.6,684.9 749.8,360.5 746.0,360.7 767.4,685.1" fill="#2b4a6c"/><polygon points="747.0,347.0 755.6,364.0 747.9,360.6 740.6,364.9" fill="#2b4a6c"/>
<polygon points="751.1,758.9 708.5,385.3 704.7,385.8 748.9,759.1" fill="#2b4a6c"/><polygon points="705.0,372.0 714.5,388.5 706.6,385.6 699.6,390.2" fill="#2b4a6c"/>
<polygon points="657.1,685.1 687.7,341.8 683.9,341.4 654.9,684.9" fill="#2b4a6c"/><polygon points="687.0,328.0 693.0,346.1 685.8,341.6 678.0,344.8" fill="#2b4a6c"/>
<polygon points="523.1,830.4 660.7,402.6 657.0,401.4 520.9,829.6" fill="#2b4a6c"/><polygon points="663.0,389.0 664.8,408.0 658.8,402.0 650.5,403.4" fill="#2b4a6c"/>
<rect x="59.2" y="216.2" width="126.0" height="50.0" fill="#0a140a" opacity="0.55" filter="url(#sh)"/><rect x="57.0" y="213.0" width="126.0" height="50.0" fill="#2b4a6c"/><text x="65.00" y="232.8" font-size="16.0" fill="#f4f01e" stroke="#f4f01e" stroke-width="0.45" textLength="34.20" lengthAdjust="spacingAndGlyphs">CNRC</text><text x="99.20" y="232.8" font-size="16.0" fill="#f4f01e" stroke="#f4f01e" stroke-width="0.45" textLength="36.80" lengthAdjust="spacingAndGlyphs">19032</text><text x="65.00" y="254.4" font-size="21.5" fill="#f4f01e" stroke="#f4f01e" stroke-width="0.45" textLength="24.98" lengthAdjust="spacingAndGlyphs">8m</text><text x="96.36" y="254.1" font-size="17.6" fill="#f4f01e" stroke="#f4f01e" stroke-width="0.85" textLength="12.76" lengthAdjust="spacingAndGlyphs">@</text><text x="115.49" y="254.4" font-size="21.5" fill="#f4f01e" stroke="#f4f01e" stroke-width="0.45" textLength="31.47" lengthAdjust="spacingAndGlyphs">16.4</text><text x="153.34" y="254.4" font-size="21.5" fill="#f4f01e" stroke="#f4f01e" stroke-width="0.45" textLength="24.66" lengthAdjust="spacingAndGlyphs">g/t</text>
<rect x="59.2" y="279.5" width="126.0" height="49.2" fill="#0a140a" opacity="0.55" filter="url(#sh)"/><rect x="57.0" y="276.3" width="126.0" height="49.2" fill="#2b4a6c"/><text x="64.50" y="296.1" font-size="16.0" fill="#f4f01e" stroke="#f4f01e" stroke-width="0.45" textLength="34.20" lengthAdjust="spacingAndGlyphs">CNRC</text><text x="98.70" y="296.1" font-size="16.0" fill="#f4f01e" stroke="#f4f01e" stroke-width="0.45" textLength="36.80" lengthAdjust="spacingAndGlyphs">19032</text><text x="64.50" y="317.7" font-size="21.5" fill="#f4f01e" stroke="#f4f01e" stroke-width="0.45" textLength="32.35" lengthAdjust="spacingAndGlyphs">10m</text><text x="103.17" y="317.4" font-size="17.6" fill="#f4f01e" stroke="#f4f01e" stroke-width="0.85" textLength="12.64" lengthAdjust="spacingAndGlyphs">@</text><text x="122.13" y="317.7" font-size="21.5" fill="#f4f01e" stroke="#f4f01e" stroke-width="0.45" textLength="23.60" lengthAdjust="spacingAndGlyphs">3.5</text><text x="152.06" y="317.7" font-size="21.5" fill="#f4f01e" stroke="#f4f01e" stroke-width="0.45" textLength="24.44" lengthAdjust="spacingAndGlyphs">g/t</text>
<rect x="58.2" y="343.2" width="134.8" height="50.0" fill="#0a140a" opacity="0.55" filter="url(#sh)"/><rect x="56.0" y="340.0" width="134.8" height="50.0" fill="#2b4a6c"/><text x="63.50" y="359.8" font-size="16.0" fill="#f4f01e" stroke="#f4f01e" stroke-width="0.45" textLength="36.37" lengthAdjust="spacingAndGlyphs">CNDD</text><text x="99.87" y="359.8" font-size="16.0" fill="#f4f01e" stroke="#f4f01e" stroke-width="0.45" textLength="35.63" lengthAdjust="spacingAndGlyphs">19012</text><text x="63.50" y="381.4" font-size="21.5" fill="#f4f01e" stroke="#f4f01e" stroke-width="0.45" textLength="39.32" lengthAdjust="spacingAndGlyphs">2.6m</text><text x="109.31" y="381.1" font-size="17.6" fill="#f4f01e" stroke="#f4f01e" stroke-width="0.85" textLength="12.96" lengthAdjust="spacingAndGlyphs">@</text><text x="128.75" y="381.4" font-size="21.5" fill="#f4f01e" stroke="#f4f01e" stroke-width="0.45" textLength="24.20" lengthAdjust="spacingAndGlyphs">8.4</text><text x="159.44" y="381.4" font-size="21.5" fill="#f4f01e" stroke="#f4f01e" stroke-width="0.45" textLength="25.06" lengthAdjust="spacingAndGlyphs">g/t</text>
<rect x="58.2" y="406.2" width="134.8" height="49.8" fill="#0a140a" opacity="0.55" filter="url(#sh)"/><rect x="56.0" y="403.0" width="134.8" height="49.8" fill="#2b4a6c"/><text x="63.50" y="422.8" font-size="16.0" fill="#f4f01e" stroke="#f4f01e" stroke-width="0.45" textLength="36.37" lengthAdjust="spacingAndGlyphs">CNDD</text><text x="99.87" y="422.8" font-size="16.0" fill="#f4f01e" stroke="#f4f01e" stroke-width="0.45" textLength="35.63" lengthAdjust="spacingAndGlyphs">19014</text><text x="63.50" y="444.4" font-size="21.5" fill="#f4f01e" stroke="#f4f01e" stroke-width="0.45" textLength="38.67" lengthAdjust="spacingAndGlyphs">3.4m</text><text x="108.55" y="444.1" font-size="17.6" fill="#f4f01e" stroke="#f4f01e" stroke-width="0.85" textLength="12.75" lengthAdjust="spacingAndGlyphs">@</text><text x="127.67" y="444.4" font-size="21.5" fill="#f4f01e" stroke="#f4f01e" stroke-width="0.45" textLength="23.80" lengthAdjust="spacingAndGlyphs">3.5</text><text x="157.85" y="444.4" font-size="21.5" fill="#f4f01e" stroke="#f4f01e" stroke-width="0.45" textLength="24.65" lengthAdjust="spacingAndGlyphs">g/t</text>
<rect x="57.9" y="467.2" width="156.1" height="74.7" fill="#0a140a" opacity="0.55" filter="url(#sh)"/><rect x="55.7" y="464.0" width="156.1" height="74.7" fill="#2b4a6c"/><text x="61.50" y="484.9" font-size="16.0" fill="#f4f01e" stroke="#f4f01e" stroke-width="0.45" textLength="36.35" lengthAdjust="spacingAndGlyphs">CNDD</text><text x="97.85" y="484.9" font-size="16.0" fill="#f4f01e" stroke="#f4f01e" stroke-width="0.45" textLength="37.52" lengthAdjust="spacingAndGlyphs">19008</text><text x="135.37" y="484.9" font-size="16.0" fill="#f4f01e" stroke="#f4f01e" stroke-width="0.45" textLength="9.13" lengthAdjust="spacingAndGlyphs">A</text><text x="61.50" y="506.5" font-size="21.5" fill="#f4f01e" stroke="#f4f01e" stroke-width="0.45" textLength="36.17" lengthAdjust="spacingAndGlyphs">1.4m</text><text x="104.04" y="506.2" font-size="17.6" fill="#f4f01e" stroke="#f4f01e" stroke-width="0.85" textLength="12.73" lengthAdjust="spacingAndGlyphs">@</text><text x="123.13" y="506.5" font-size="21.5" fill="#f4f01e" stroke="#f4f01e" stroke-width="0.45" textLength="31.40" lengthAdjust="spacingAndGlyphs">16.9</text><text x="160.89" y="506.5" font-size="21.5" fill="#f4f01e" stroke="#f4f01e" stroke-width="0.45" textLength="24.61" lengthAdjust="spacingAndGlyphs">g/t</text><text x="61.50" y="528.6" font-size="21.5" fill="#f4f01e" stroke="#f4f01e" stroke-width="0.45" textLength="32.29" lengthAdjust="spacingAndGlyphs">incl.</text><text x="100.07" y="528.6" font-size="21.5" fill="#f4f01e" stroke="#f4f01e" stroke-width="0.45" textLength="22.22" lengthAdjust="spacingAndGlyphs">1m</text><text x="128.59" y="528.3" font-size="17.6" fill="#f4f01e" stroke="#f4f01e" stroke-width="0.85" textLength="12.58" lengthAdjust="spacingAndGlyphs">@</text><text x="147.45" y="528.6" font-size="21.5" fill="#f4f01e" stroke="#f4f01e" stroke-width="0.45" textLength="33.44" lengthAdjust="spacingAndGlyphs">22.6</text><text x="187.18" y="528.6" font-size="21.5" fill="#f4f01e" stroke="#f4f01e" stroke-width="0.45" textLength="24.32" lengthAdjust="spacingAndGlyphs">g/t</text>
<rect x="21.7" y="550.0" width="193.3" height="91.0" fill="#2f6299"/><text x="29.00" y="566.6" font-size="16.0" fill="#ffffff" stroke="#ffffff" stroke-width="0.45" textLength="35.87" lengthAdjust="spacingAndGlyphs">CNDD</text><text x="64.87" y="566.6" font-size="16.0" fill="#ffffff" stroke="#ffffff" stroke-width="0.45" textLength="35.13" lengthAdjust="spacingAndGlyphs">19015</text><text x="29.00" y="587.8" font-size="21.5" fill="#ffffff" stroke="#ffffff" stroke-width="0.45" textLength="39.55" lengthAdjust="spacingAndGlyphs">4.8m</text><text x="75.06" y="587.5" font-size="17.6" fill="#ffffff" stroke="#ffffff" stroke-width="0.85" textLength="13.04" lengthAdjust="spacingAndGlyphs">@</text><text x="94.62" y="587.8" font-size="21.5" fill="#ffffff" stroke="#ffffff" stroke-width="0.45" textLength="34.66" lengthAdjust="spacingAndGlyphs">34.4</text><text x="135.80" y="587.8" font-size="21.5" fill="#ffffff" stroke="#ffffff" stroke-width="0.45" textLength="25.20" lengthAdjust="spacingAndGlyphs">g/t</text><text x="29.00" y="610.3" font-size="21.5" fill="#ffffff" stroke="#ffffff" stroke-width="0.45" textLength="33.22" lengthAdjust="spacingAndGlyphs">incl.</text><text x="68.69" y="610.3" font-size="21.5" fill="#ffffff" stroke="#ffffff" stroke-width="0.45" textLength="39.26" lengthAdjust="spacingAndGlyphs">0.3m</text><text x="114.43" y="610.0" font-size="17.6" fill="#ffffff" stroke="#ffffff" stroke-width="0.85" textLength="12.94" lengthAdjust="spacingAndGlyphs">@</text><text x="133.85" y="610.3" font-size="21.5" fill="#ffffff" stroke="#ffffff" stroke-width="0.45" textLength="44.66" lengthAdjust="spacingAndGlyphs">498.2</text><text x="184.97" y="610.3" font-size="21.5" fill="#ffffff" stroke="#ffffff" stroke-width="0.45" textLength="25.03" lengthAdjust="spacingAndGlyphs">g/t</text><text x="29.00" y="633.0" font-size="21.5" fill="#ffffff" stroke="#ffffff" stroke-width="0.45" textLength="12.97" lengthAdjust="spacingAndGlyphs">&amp;</text><text x="48.25" y="633.0" font-size="21.5" fill="#ffffff" stroke="#ffffff" stroke-width="0.45" textLength="35.67" lengthAdjust="spacingAndGlyphs">1.6m</text><text x="90.19" y="632.7" font-size="17.6" fill="#ffffff" stroke="#ffffff" stroke-width="0.85" textLength="12.55" lengthAdjust="spacingAndGlyphs">@</text><text x="109.02" y="633.0" font-size="21.5" fill="#ffffff" stroke="#ffffff" stroke-width="0.45" textLength="23.43" lengthAdjust="spacingAndGlyphs">9.2</text><text x="138.73" y="633.0" font-size="21.5" fill="#ffffff" stroke="#ffffff" stroke-width="0.45" textLength="24.27" lengthAdjust="spacingAndGlyphs">g/t</text>
<rect x="58.0" y="650.7" width="133.0" height="50.0" fill="#666666"/><text x="63.00" y="670.5" font-size="16.0" fill="#d9d9d9" stroke="#d9d9d9" stroke-width="0.45" textLength="35.74" lengthAdjust="spacingAndGlyphs">CNDD</text><text x="98.74" y="670.5" font-size="16.0" fill="#d9d9d9" stroke="#d9d9d9" stroke-width="0.45" textLength="23.26" lengthAdjust="spacingAndGlyphs">007</text><text x="63.00" y="692.1" font-size="21.5" fill="#d9d9d9" stroke="#d9d9d9" stroke-width="0.45" textLength="37.99" lengthAdjust="spacingAndGlyphs">6.7m</text><text x="107.25" y="691.8" font-size="17.6" fill="#d9d9d9" stroke="#d9d9d9" stroke-width="0.85" textLength="12.52" lengthAdjust="spacingAndGlyphs">@</text><text x="126.04" y="692.1" font-size="21.5" fill="#d9d9d9" stroke="#d9d9d9" stroke-width="0.45" textLength="28.49" lengthAdjust="spacingAndGlyphs">11.0</text><text x="160.79" y="692.1" font-size="21.5" fill="#d9d9d9" stroke="#d9d9d9" stroke-width="0.45" textLength="24.21" lengthAdjust="spacingAndGlyphs">g/t</text>
<rect x="58.0" y="711.7" width="115.0" height="50.3" fill="#666666"/><text x="63.00" y="731.5" font-size="16.0" fill="#d9d9d9" stroke="#d9d9d9" stroke-width="0.45" textLength="35.74" lengthAdjust="spacingAndGlyphs">CNDD</text><text x="98.74" y="731.5" font-size="16.0" fill="#d9d9d9" stroke="#d9d9d9" stroke-width="0.45" textLength="23.26" lengthAdjust="spacingAndGlyphs">006</text><text x="63.00" y="753.1" font-size="21.5" fill="#d9d9d9" stroke="#d9d9d9" stroke-width="0.45" textLength="24.66" lengthAdjust="spacingAndGlyphs">9m</text><text x="93.96" y="752.8" font-size="17.6" fill="#d9d9d9" stroke="#d9d9d9" stroke-width="0.85" textLength="12.59" lengthAdjust="spacingAndGlyphs">@</text><text x="112.85" y="753.1" font-size="21.5" fill="#d9d9d9" stroke="#d9d9d9" stroke-width="0.45" textLength="23.51" lengthAdjust="spacingAndGlyphs">2.9</text><text x="142.65" y="753.1" font-size="21.5" fill="#d9d9d9" stroke="#d9d9d9" stroke-width="0.45" textLength="24.35" lengthAdjust="spacingAndGlyphs">g/t</text>
<rect x="107.0" y="855.0" width="141.0" height="50.0" fill="#666666"/><text x="111.70" y="874.8" font-size="16.0" fill="#d9d9d9" stroke="#d9d9d9" stroke-width="0.45" textLength="15.84" lengthAdjust="spacingAndGlyphs">CS</text><text x="127.54" y="874.8" font-size="16.0" fill="#d9d9d9" stroke="#d9d9d9" stroke-width="0.45" textLength="7.60" lengthAdjust="spacingAndGlyphs">6</text><text x="135.14" y="874.8" font-size="16.0" fill="#d9d9d9" stroke="#d9d9d9" stroke-width="0.45" textLength="12.80" lengthAdjust="spacingAndGlyphs">W</text><text x="147.94" y="874.8" font-size="16.0" fill="#d9d9d9" stroke="#d9d9d9" stroke-width="0.45" textLength="5.76" lengthAdjust="spacingAndGlyphs">1</text><text x="111.70" y="896.4" font-size="21.5" fill="#d9d9d9" stroke="#d9d9d9" stroke-width="0.45" textLength="45.19" lengthAdjust="spacingAndGlyphs">10.5m</text><text x="163.11" y="896.1" font-size="17.6" fill="#d9d9d9" stroke="#d9d9d9" stroke-width="0.85" textLength="12.44" lengthAdjust="spacingAndGlyphs">@</text><text x="181.76" y="896.4" font-size="21.5" fill="#d9d9d9" stroke="#d9d9d9" stroke-width="0.45" textLength="30.68" lengthAdjust="spacingAndGlyphs">17.2</text><text x="218.66" y="896.4" font-size="21.5" fill="#d9d9d9" stroke="#d9d9d9" stroke-width="0.45" textLength="24.04" lengthAdjust="spacingAndGlyphs">g/t</text>
<rect x="300.0" y="642.0" width="128.8" height="50.4" fill="#666666"/><text x="306.70" y="661.8" font-size="16.0" fill="#d9d9d9" stroke="#d9d9d9" stroke-width="0.45" textLength="36.95" lengthAdjust="spacingAndGlyphs">CNDD</text><text x="343.65" y="661.8" font-size="16.0" fill="#d9d9d9" stroke="#d9d9d9" stroke-width="0.45" textLength="24.05" lengthAdjust="spacingAndGlyphs">004</text><text x="306.70" y="683.4" font-size="21.5" fill="#d9d9d9" stroke="#d9d9d9" stroke-width="0.45" textLength="37.70" lengthAdjust="spacingAndGlyphs">7.7m</text><text x="350.61" y="683.1" font-size="17.6" fill="#d9d9d9" stroke="#d9d9d9" stroke-width="0.85" textLength="12.43" lengthAdjust="spacingAndGlyphs">@</text><text x="369.26" y="683.4" font-size="21.5" fill="#d9d9d9" stroke="#d9d9d9" stroke-width="0.45" textLength="23.20" lengthAdjust="spacingAndGlyphs">9.4</text><text x="398.67" y="683.4" font-size="21.5" fill="#d9d9d9" stroke="#d9d9d9" stroke-width="0.45" textLength="24.03" lengthAdjust="spacingAndGlyphs">g/t</text>
<rect x="309.0" y="716.0" width="127.7" height="49.5" fill="#2f6299"/><text x="315.00" y="735.8" font-size="16.0" fill="#ffffff" stroke="#ffffff" stroke-width="0.45" textLength="35.29" lengthAdjust="spacingAndGlyphs">CNDD</text><text x="350.29" y="735.8" font-size="16.0" fill="#ffffff" stroke="#ffffff" stroke-width="0.45" textLength="32.71" lengthAdjust="spacingAndGlyphs">19011</text><text x="315.00" y="757.4" font-size="21.5" fill="#ffffff" stroke="#ffffff" stroke-width="0.45" textLength="36.06" lengthAdjust="spacingAndGlyphs">1.5m</text><text x="357.40" y="757.1" font-size="17.6" fill="#ffffff" stroke="#ffffff" stroke-width="0.85" textLength="12.69" lengthAdjust="spacingAndGlyphs">@</text><text x="376.44" y="757.4" font-size="21.5" fill="#ffffff" stroke="#ffffff" stroke-width="0.45" textLength="23.69" lengthAdjust="spacingAndGlyphs">4.2</text><text x="406.47" y="757.4" font-size="21.5" fill="#ffffff" stroke="#ffffff" stroke-width="0.45" textLength="24.53" lengthAdjust="spacingAndGlyphs">g/t</text>
<rect x="320.0" y="786.0" width="126.7" height="50.0" fill="#2f6299"/><text x="326.00" y="805.8" font-size="16.0" fill="#ffffff" stroke="#ffffff" stroke-width="0.45" textLength="35.93" lengthAdjust="spacingAndGlyphs">CNDD</text><text x="361.93" y="805.8" font-size="16.0" fill="#ffffff" stroke="#ffffff" stroke-width="0.45" textLength="37.07" lengthAdjust="spacingAndGlyphs">19009</text><text x="326.00" y="827.4" font-size="21.5" fill="#ffffff" stroke="#ffffff" stroke-width="0.45" textLength="37.60" lengthAdjust="spacingAndGlyphs">2.7m</text><text x="369.80" y="827.1" font-size="17.6" fill="#ffffff" stroke="#ffffff" stroke-width="0.85" textLength="12.40" lengthAdjust="spacingAndGlyphs">@</text><text x="388.40" y="827.4" font-size="21.5" fill="#ffffff" stroke="#ffffff" stroke-width="0.45" textLength="23.14" lengthAdjust="spacingAndGlyphs">4.7</text><text x="417.73" y="827.4" font-size="21.5" fill="#ffffff" stroke="#ffffff" stroke-width="0.45" textLength="23.97" lengthAdjust="spacingAndGlyphs">g/t</text>
<rect x="348.0" y="856.0" width="125.0" height="49.7" fill="#666666"/><text x="354.00" y="875.8" font-size="16.0" fill="#d9d9d9" stroke="#d9d9d9" stroke-width="0.45" textLength="36.95" lengthAdjust="spacingAndGlyphs">CNDD</text><text x="390.95" y="875.8" font-size="16.0" fill="#d9d9d9" stroke="#d9d9d9" stroke-width="0.45" textLength="24.05" lengthAdjust="spacingAndGlyphs">009</text><text x="354.00" y="897.4" font-size="21.5" fill="#d9d9d9" stroke="#d9d9d9" stroke-width="0.45" textLength="25.20" lengthAdjust="spacingAndGlyphs">4m</text><text x="385.64" y="897.1" font-size="17.6" fill="#d9d9d9" stroke="#d9d9d9" stroke-width="0.85" textLength="12.87" lengthAdjust="spacingAndGlyphs">@</text><text x="404.94" y="897.4" font-size="21.5" fill="#d9d9d9" stroke="#d9d9d9" stroke-width="0.45" textLength="31.74" lengthAdjust="spacingAndGlyphs">16.0</text><text x="443.12" y="897.4" font-size="21.5" fill="#d9d9d9" stroke="#d9d9d9" stroke-width="0.45" textLength="24.88" lengthAdjust="spacingAndGlyphs">g/t</text>
<rect x="286.2" y="214.2" width="157.0" height="75.0" fill="#0a140a" opacity="0.55" filter="url(#sh)"/><rect x="284.0" y="211.0" width="157.0" height="75.0" fill="#2b4a6c"/><text x="290.00" y="231.9" font-size="16.0" fill="#f4f01e" stroke="#f4f01e" stroke-width="0.45" textLength="34.13" lengthAdjust="spacingAndGlyphs">CNRC</text><text x="324.13" y="231.9" font-size="16.0" fill="#f4f01e" stroke="#f4f01e" stroke-width="0.45" textLength="34.87" lengthAdjust="spacingAndGlyphs">19031</text><text x="290.00" y="253.5" font-size="21.5" fill="#f4f01e" stroke="#f4f01e" stroke-width="0.45" textLength="24.42" lengthAdjust="spacingAndGlyphs">2m</text><text x="320.66" y="253.2" font-size="17.6" fill="#f4f01e" stroke="#f4f01e" stroke-width="0.85" textLength="12.47" lengthAdjust="spacingAndGlyphs">@</text><text x="339.37" y="253.5" font-size="21.5" fill="#f4f01e" stroke="#f4f01e" stroke-width="0.45" textLength="23.28" lengthAdjust="spacingAndGlyphs">7.3</text><text x="368.89" y="253.5" font-size="21.5" fill="#f4f01e" stroke="#f4f01e" stroke-width="0.45" textLength="24.11" lengthAdjust="spacingAndGlyphs">g/t</text><text x="290.00" y="275.6" font-size="21.5" fill="#f4f01e" stroke="#f4f01e" stroke-width="0.45" textLength="32.25" lengthAdjust="spacingAndGlyphs">incl.</text><text x="328.53" y="275.6" font-size="21.5" fill="#f4f01e" stroke="#f4f01e" stroke-width="0.45" textLength="22.19" lengthAdjust="spacingAndGlyphs">1m</text><text x="357.00" y="275.3" font-size="17.6" fill="#f4f01e" stroke="#f4f01e" stroke-width="0.85" textLength="12.56" lengthAdjust="spacingAndGlyphs">@</text><text x="375.85" y="275.6" font-size="21.5" fill="#f4f01e" stroke="#f4f01e" stroke-width="0.45" textLength="28.58" lengthAdjust="spacingAndGlyphs">14.1</text><text x="410.71" y="275.6" font-size="21.5" fill="#f4f01e" stroke="#f4f01e" stroke-width="0.45" textLength="24.29" lengthAdjust="spacingAndGlyphs">g/t</text>
<rect x="466.0" y="215.5" width="116.0" height="50.0" fill="#666666"/><text x="471.00" y="235.3" font-size="16.0" fill="#d9d9d9" stroke="#d9d9d9" stroke-width="0.45" textLength="34.55" lengthAdjust="spacingAndGlyphs">CNRC</text><text x="505.55" y="235.3" font-size="16.0" fill="#d9d9d9" stroke="#d9d9d9" stroke-width="0.45" textLength="23.45" lengthAdjust="spacingAndGlyphs">060</text><text x="471.00" y="256.9" font-size="21.5" fill="#d9d9d9" stroke="#d9d9d9" stroke-width="0.45" textLength="24.90" lengthAdjust="spacingAndGlyphs">6m</text><text x="502.26" y="256.6" font-size="17.6" fill="#d9d9d9" stroke="#d9d9d9" stroke-width="0.85" textLength="12.71" lengthAdjust="spacingAndGlyphs">@</text><text x="521.33" y="256.9" font-size="21.5" fill="#d9d9d9" stroke="#d9d9d9" stroke-width="0.45" textLength="23.73" lengthAdjust="spacingAndGlyphs">6.6</text><text x="551.42" y="256.9" font-size="21.5" fill="#d9d9d9" stroke="#d9d9d9" stroke-width="0.45" textLength="24.58" lengthAdjust="spacingAndGlyphs">g/t</text>
<rect x="500.0" y="833.2" width="156.9" height="75.8" fill="#0a140a" opacity="0.55" filter="url(#sh)"/><rect x="497.8" y="830.0" width="156.9" height="75.8" fill="#2b4a6c"/><text x="505.00" y="850.9" font-size="16.0" fill="#f4f01e" stroke="#f4f01e" stroke-width="0.45" textLength="33.72" lengthAdjust="spacingAndGlyphs">CNRC</text><text x="538.72" y="850.9" font-size="16.0" fill="#f4f01e" stroke="#f4f01e" stroke-width="0.45" textLength="36.28" lengthAdjust="spacingAndGlyphs">19026</text><text x="505.00" y="872.5" font-size="21.5" fill="#f4f01e" stroke="#f4f01e" stroke-width="0.45" textLength="24.42" lengthAdjust="spacingAndGlyphs">3m</text><text x="535.66" y="872.2" font-size="17.6" fill="#f4f01e" stroke="#f4f01e" stroke-width="0.85" textLength="12.47" lengthAdjust="spacingAndGlyphs">@</text><text x="554.37" y="872.5" font-size="21.5" fill="#f4f01e" stroke="#f4f01e" stroke-width="0.45" textLength="23.28" lengthAdjust="spacingAndGlyphs">4.5</text><text x="583.89" y="872.5" font-size="21.5" fill="#f4f01e" stroke="#f4f01e" stroke-width="0.45" textLength="24.11" lengthAdjust="spacingAndGlyphs">g/t</text><text x="505.00" y="894.6" font-size="21.5" fill="#f4f01e" stroke="#f4f01e" stroke-width="0.45" textLength="32.41" lengthAdjust="spacingAndGlyphs">incl.</text><text x="543.72" y="894.6" font-size="21.5" fill="#f4f01e" stroke="#f4f01e" stroke-width="0.45" textLength="24.73" lengthAdjust="spacingAndGlyphs">2m</text><text x="574.76" y="894.3" font-size="17.6" fill="#f4f01e" stroke="#f4f01e" stroke-width="0.85" textLength="12.63" lengthAdjust="spacingAndGlyphs">@</text><text x="593.70" y="894.6" font-size="21.5" fill="#f4f01e" stroke="#f4f01e" stroke-width="0.45" textLength="23.57" lengthAdjust="spacingAndGlyphs">6.4</text><text x="623.59" y="894.6" font-size="21.5" fill="#f4f01e" stroke="#f4f01e" stroke-width="0.45" textLength="24.41" lengthAdjust="spacingAndGlyphs">g/t</text>
<rect x="559.0" y="758.7" width="135.0" height="49.3" fill="#2f6299"/><text x="565.80" y="778.5" font-size="16.0" fill="#ffffff" stroke="#ffffff" stroke-width="0.45" textLength="35.93" lengthAdjust="spacingAndGlyphs">CNDD</text><text x="601.73" y="778.5" font-size="16.0" fill="#ffffff" stroke="#ffffff" stroke-width="0.45" textLength="37.07" lengthAdjust="spacingAndGlyphs">19005</text><text x="565.80" y="800.1" font-size="21.5" fill="#ffffff" stroke="#ffffff" stroke-width="0.45" textLength="35.30" lengthAdjust="spacingAndGlyphs">1.2m</text><text x="607.31" y="799.8" font-size="17.6" fill="#ffffff" stroke="#ffffff" stroke-width="0.85" textLength="12.42" lengthAdjust="spacingAndGlyphs">@</text><text x="625.94" y="800.1" font-size="21.5" fill="#ffffff" stroke="#ffffff" stroke-width="0.45" textLength="30.64" lengthAdjust="spacingAndGlyphs">15.7</text><text x="662.79" y="800.1" font-size="21.5" fill="#ffffff" stroke="#ffffff" stroke-width="0.45" textLength="24.01" lengthAdjust="spacingAndGlyphs">g/t</text>
<rect x="611.2" y="688.2" width="116.0" height="51.0" fill="#0a140a" opacity="0.55" filter="url(#sh)"/><rect x="609.0" y="685.0" width="116.0" height="51.0" fill="#2b4a6c"/><text x="614.00" y="704.8" font-size="16.0" fill="#f4f01e" stroke="#f4f01e" stroke-width="0.45" textLength="33.72" lengthAdjust="spacingAndGlyphs">CNRC</text><text x="647.72" y="704.8" font-size="16.0" fill="#f4f01e" stroke="#f4f01e" stroke-width="0.45" textLength="36.28" lengthAdjust="spacingAndGlyphs">19025</text><text x="614.00" y="726.4" font-size="21.5" fill="#f4f01e" stroke="#f4f01e" stroke-width="0.45" textLength="24.90" lengthAdjust="spacingAndGlyphs">4m</text><text x="645.26" y="726.1" font-size="17.6" fill="#f4f01e" stroke="#f4f01e" stroke-width="0.85" textLength="12.71" lengthAdjust="spacingAndGlyphs">@</text><text x="664.33" y="726.4" font-size="21.5" fill="#f4f01e" stroke="#f4f01e" stroke-width="0.45" textLength="23.73" lengthAdjust="spacingAndGlyphs">2.8</text><text x="694.42" y="726.4" font-size="21.5" fill="#f4f01e" stroke="#f4f01e" stroke-width="0.45" textLength="24.58" lengthAdjust="spacingAndGlyphs">g/t</text>
<rect x="734.2" y="762.2" width="117.0" height="50.0" fill="#0a140a" opacity="0.55" filter="url(#sh)"/><rect x="732.0" y="759.0" width="117.0" height="50.0" fill="#2b4a6c"/><text x="740.00" y="778.8" font-size="16.0" fill="#f4f01e" stroke="#f4f01e" stroke-width="0.45" textLength="33.72" lengthAdjust="spacingAndGlyphs">CNRC</text><text x="773.72" y="778.8" font-size="16.0" fill="#f4f01e" stroke="#f4f01e" stroke-width="0.45" textLength="36.28" lengthAdjust="spacingAndGlyphs">19023</text><text x="740.00" y="800.4" font-size="21.5" fill="#f4f01e" stroke="#f4f01e" stroke-width="0.45" textLength="24.42" lengthAdjust="spacingAndGlyphs">5m</text><text x="770.66" y="800.1" font-size="17.6" fill="#f4f01e" stroke="#f4f01e" stroke-width="0.85" textLength="12.47" lengthAdjust="spacingAndGlyphs">@</text><text x="789.37" y="800.4" font-size="21.5" fill="#f4f01e" stroke="#f4f01e" stroke-width="0.45" textLength="23.28" lengthAdjust="spacingAndGlyphs">2.3</text><text x="818.89" y="800.4" font-size="21.5" fill="#f4f01e" stroke="#f4f01e" stroke-width="0.45" textLength="24.11" lengthAdjust="spacingAndGlyphs">g/t</text>
<rect x="756.9" y="688.2" width="129.3" height="51.0" fill="#0a140a" opacity="0.55" filter="url(#sh)"/><rect x="754.7" y="685.0" width="129.3" height="51.0" fill="#2b4a6c"/><text x="762.00" y="704.8" font-size="16.0" fill="#f4f01e" stroke="#f4f01e" stroke-width="0.45" textLength="34.13" lengthAdjust="spacingAndGlyphs">CNRC</text><text x="796.13" y="704.8" font-size="16.0" fill="#f4f01e" stroke="#f4f01e" stroke-width="0.45" textLength="34.87" lengthAdjust="spacingAndGlyphs">19021</text><text x="762.00" y="726.4" font-size="21.5" fill="#f4f01e" stroke="#f4f01e" stroke-width="0.45" textLength="25.32" lengthAdjust="spacingAndGlyphs">8m</text><text x="793.78" y="726.1" font-size="17.6" fill="#f4f01e" stroke="#f4f01e" stroke-width="0.85" textLength="12.93" lengthAdjust="spacingAndGlyphs">@</text><text x="813.17" y="726.4" font-size="21.5" fill="#f4f01e" stroke="#f4f01e" stroke-width="0.45" textLength="34.37" lengthAdjust="spacingAndGlyphs">20.2</text><text x="854.01" y="726.4" font-size="21.5" fill="#f4f01e" stroke="#f4f01e" stroke-width="0.45" textLength="24.99" lengthAdjust="spacingAndGlyphs">g/t</text>
<rect x="777.0" y="616.0" width="126.0" height="49.0" fill="#666666"/><text x="782.00" y="635.8" font-size="16.0" fill="#d9d9d9" stroke="#d9d9d9" stroke-width="0.45" textLength="34.55" lengthAdjust="spacingAndGlyphs">CNRC</text><text x="816.55" y="635.8" font-size="16.0" fill="#d9d9d9" stroke="#d9d9d9" stroke-width="0.45" textLength="23.45" lengthAdjust="spacingAndGlyphs">043</text><text x="782.00" y="657.4" font-size="21.5" fill="#d9d9d9" stroke="#d9d9d9" stroke-width="0.45" textLength="32.30" lengthAdjust="spacingAndGlyphs">12m</text><text x="820.61" y="657.1" font-size="17.6" fill="#d9d9d9" stroke="#d9d9d9" stroke-width="0.85" textLength="12.63" lengthAdjust="spacingAndGlyphs">@</text><text x="839.55" y="657.4" font-size="21.5" fill="#d9d9d9" stroke="#d9d9d9" stroke-width="0.45" textLength="28.72" lengthAdjust="spacingAndGlyphs">11.0</text><text x="874.59" y="657.4" font-size="21.5" fill="#d9d9d9" stroke="#d9d9d9" stroke-width="0.45" textLength="24.41" lengthAdjust="spacingAndGlyphs">g/t</text>
<rect x="798.9" y="546.2" width="113.3" height="50.0" fill="#0a140a" opacity="0.55" filter="url(#sh)"/><rect x="796.7" y="543.0" width="113.3" height="50.0" fill="#2b4a6c"/><text x="802.00" y="562.8" font-size="16.0" fill="#f4f01e" stroke="#f4f01e" stroke-width="0.45" textLength="34.63" lengthAdjust="spacingAndGlyphs">CNRC</text><text x="836.63" y="562.8" font-size="16.0" fill="#f4f01e" stroke="#f4f01e" stroke-width="0.45" textLength="35.37" lengthAdjust="spacingAndGlyphs">19018</text><text x="802.00" y="584.4" font-size="21.5" fill="#f4f01e" stroke="#f4f01e" stroke-width="0.45" textLength="24.19" lengthAdjust="spacingAndGlyphs">2m</text><text x="832.36" y="584.1" font-size="17.6" fill="#f4f01e" stroke="#f4f01e" stroke-width="0.85" textLength="12.35" lengthAdjust="spacingAndGlyphs">@</text><text x="850.89" y="584.4" font-size="21.5" fill="#f4f01e" stroke="#f4f01e" stroke-width="0.45" textLength="23.06" lengthAdjust="spacingAndGlyphs">9.7</text><text x="880.12" y="584.4" font-size="21.5" fill="#f4f01e" stroke="#f4f01e" stroke-width="0.45" textLength="23.88" lengthAdjust="spacingAndGlyphs">g/t</text>
<rect x="816.2" y="471.7" width="112.0" height="50.0" fill="#0a140a" opacity="0.55" filter="url(#sh)"/><rect x="814.0" y="468.5" width="112.0" height="50.0" fill="#2b4a6c"/><text x="818.00" y="488.3" font-size="16.0" fill="#f4f01e" stroke="#f4f01e" stroke-width="0.45" textLength="33.64" lengthAdjust="spacingAndGlyphs">CNRC</text><text x="851.64" y="488.3" font-size="16.0" fill="#f4f01e" stroke="#f4f01e" stroke-width="0.45" textLength="34.36" lengthAdjust="spacingAndGlyphs">19017</text><text x="818.00" y="509.9" font-size="21.5" fill="#f4f01e" stroke="#f4f01e" stroke-width="0.45" textLength="22.12" lengthAdjust="spacingAndGlyphs">1m</text><text x="846.38" y="509.6" font-size="17.6" fill="#f4f01e" stroke="#f4f01e" stroke-width="0.85" textLength="12.52" lengthAdjust="spacingAndGlyphs">@</text><text x="865.16" y="509.9" font-size="21.5" fill="#f4f01e" stroke="#f4f01e" stroke-width="0.45" textLength="23.37" lengthAdjust="spacingAndGlyphs">8.3</text><text x="894.79" y="509.9" font-size="21.5" fill="#f4f01e" stroke="#f4f01e" stroke-width="0.45" textLength="24.21" lengthAdjust="spacingAndGlyphs">g/t</text>
<rect x="983.0" y="438.0" width="123.0" height="50.0" fill="#666666"/><text x="989.70" y="457.8" font-size="16.0" fill="#d9d9d9" stroke="#d9d9d9" stroke-width="0.45" textLength="34.26" lengthAdjust="spacingAndGlyphs">CNRC</text><text x="1023.96" y="457.8" font-size="16.0" fill="#d9d9d9" stroke="#d9d9d9" stroke-width="0.45" textLength="23.24" lengthAdjust="spacingAndGlyphs">026</text><text x="989.70" y="479.4" font-size="21.5" fill="#d9d9d9" stroke="#d9d9d9" stroke-width="0.45" textLength="24.32" lengthAdjust="spacingAndGlyphs">5m</text><text x="1020.23" y="479.1" font-size="17.6" fill="#d9d9d9" stroke="#d9d9d9" stroke-width="0.85" textLength="12.42" lengthAdjust="spacingAndGlyphs">@</text><text x="1038.85" y="479.4" font-size="21.5" fill="#d9d9d9" stroke="#d9d9d9" stroke-width="0.45" textLength="30.63" lengthAdjust="spacingAndGlyphs">70.1</text><text x="1075.69" y="479.4" font-size="21.5" fill="#d9d9d9" stroke="#d9d9d9" stroke-width="0.45" textLength="24.01" lengthAdjust="spacingAndGlyphs">g/t</text>
<rect x="970.0" y="495.0" width="121.0" height="49.0" fill="#666666"/><text x="974.50" y="514.8" font-size="16.0" fill="#d9d9d9" stroke="#d9d9d9" stroke-width="0.45" textLength="33.36" lengthAdjust="spacingAndGlyphs">CNRC</text><text x="1007.86" y="514.8" font-size="16.0" fill="#d9d9d9" stroke="#d9d9d9" stroke-width="0.45" textLength="22.64" lengthAdjust="spacingAndGlyphs">055</text><text x="974.50" y="536.4" font-size="21.5" fill="#d9d9d9" stroke="#d9d9d9" stroke-width="0.45" textLength="24.43" lengthAdjust="spacingAndGlyphs">3m</text><text x="1005.17" y="536.1" font-size="17.6" fill="#d9d9d9" stroke="#d9d9d9" stroke-width="0.85" textLength="12.47" lengthAdjust="spacingAndGlyphs">@</text><text x="1023.88" y="536.4" font-size="21.5" fill="#d9d9d9" stroke="#d9d9d9" stroke-width="0.45" textLength="30.77" lengthAdjust="spacingAndGlyphs">20.1</text><text x="1060.88" y="536.4" font-size="21.5" fill="#d9d9d9" stroke="#d9d9d9" stroke-width="0.45" textLength="24.12" lengthAdjust="spacingAndGlyphs">g/t</text>
<rect x="958.2" y="556.2" width="153.0" height="75.0" fill="#0a140a" opacity="0.55" filter="url(#sh)"/><rect x="956.0" y="553.0" width="153.0" height="75.0" fill="#2b4a6c"/><text x="962.50" y="573.9" font-size="16.0" fill="#f4f01e" stroke="#f4f01e" stroke-width="0.45" textLength="34.13" lengthAdjust="spacingAndGlyphs">CNRC</text><text x="996.63" y="573.9" font-size="16.0" fill="#f4f01e" stroke="#f4f01e" stroke-width="0.45" textLength="34.87" lengthAdjust="spacingAndGlyphs">19018</text><text x="962.50" y="595.5" font-size="21.5" fill="#f4f01e" stroke="#f4f01e" stroke-width="0.45" textLength="24.28" lengthAdjust="spacingAndGlyphs">6m</text><text x="992.98" y="595.2" font-size="17.6" fill="#f4f01e" stroke="#f4f01e" stroke-width="0.85" textLength="12.40" lengthAdjust="spacingAndGlyphs">@</text><text x="1011.57" y="595.5" font-size="21.5" fill="#f4f01e" stroke="#f4f01e" stroke-width="0.45" textLength="20.76" lengthAdjust="spacingAndGlyphs">1.6</text><text x="1038.53" y="595.5" font-size="21.5" fill="#f4f01e" stroke="#f4f01e" stroke-width="0.45" textLength="23.97" lengthAdjust="spacingAndGlyphs">g/t</text><text x="962.50" y="617.6" font-size="21.5" fill="#f4f01e" stroke="#f4f01e" stroke-width="0.45" textLength="32.18" lengthAdjust="spacingAndGlyphs">incl.</text><text x="1000.95" y="617.6" font-size="21.5" fill="#f4f01e" stroke="#f4f01e" stroke-width="0.45" textLength="24.55" lengthAdjust="spacingAndGlyphs">2m</text><text x="1031.78" y="617.3" font-size="17.6" fill="#f4f01e" stroke="#f4f01e" stroke-width="0.85" textLength="12.54" lengthAdjust="spacingAndGlyphs">@</text><text x="1050.58" y="617.6" font-size="21.5" fill="#f4f01e" stroke="#f4f01e" stroke-width="0.45" textLength="23.41" lengthAdjust="spacingAndGlyphs">3.6</text><text x="1080.26" y="617.6" font-size="21.5" fill="#f4f01e" stroke="#f4f01e" stroke-width="0.45" textLength="24.24" lengthAdjust="spacingAndGlyphs">g/t</text>
<rect x="1139.2" y="578.2" width="111.0" height="50.0" fill="#0a140a" opacity="0.55" filter="url(#sh)"/><rect x="1137.0" y="575.0" width="111.0" height="50.0" fill="#2b4a6c"/><text x="1141.00" y="594.8" font-size="16.0" fill="#f4f01e" stroke="#f4f01e" stroke-width="0.45" textLength="34.73" lengthAdjust="spacingAndGlyphs">CNRC</text><text x="1175.73" y="594.8" font-size="16.0" fill="#f4f01e" stroke="#f4f01e" stroke-width="0.45" textLength="39.27" lengthAdjust="spacingAndGlyphs">20002</text><text x="1141.00" y="616.4" font-size="21.5" fill="#f4f01e" stroke="#f4f01e" stroke-width="0.45" textLength="24.42" lengthAdjust="spacingAndGlyphs">2m</text><text x="1171.66" y="616.1" font-size="17.6" fill="#f4f01e" stroke="#f4f01e" stroke-width="0.85" textLength="12.47" lengthAdjust="spacingAndGlyphs">@</text><text x="1190.37" y="616.4" font-size="21.5" fill="#f4f01e" stroke="#f4f01e" stroke-width="0.45" textLength="23.28" lengthAdjust="spacingAndGlyphs">7.0</text><text x="1219.89" y="616.4" font-size="21.5" fill="#f4f01e" stroke="#f4f01e" stroke-width="0.45" textLength="24.11" lengthAdjust="spacingAndGlyphs">g/t</text>
<rect x="1274.2" y="558.2" width="154.0" height="75.0" fill="#0a140a" opacity="0.55" filter="url(#sh)"/><rect x="1272.0" y="555.0" width="154.0" height="75.0" fill="#2b4a6c"/><text x="1277.50" y="575.9" font-size="16.0" fill="#f4f01e" stroke="#f4f01e" stroke-width="0.45" textLength="35.16" lengthAdjust="spacingAndGlyphs">CNRC</text><text x="1312.66" y="575.9" font-size="16.0" fill="#f4f01e" stroke="#f4f01e" stroke-width="0.45" textLength="37.84" lengthAdjust="spacingAndGlyphs">20001</text><text x="1277.50" y="597.5" font-size="21.5" fill="#f4f01e" stroke="#f4f01e" stroke-width="0.45" textLength="24.03" lengthAdjust="spacingAndGlyphs">7m</text><text x="1307.67" y="597.2" font-size="17.6" fill="#f4f01e" stroke="#f4f01e" stroke-width="0.85" textLength="12.27" lengthAdjust="spacingAndGlyphs">@</text><text x="1326.08" y="597.5" font-size="21.5" fill="#f4f01e" stroke="#f4f01e" stroke-width="0.45" textLength="20.56" lengthAdjust="spacingAndGlyphs">1.7</text><text x="1352.77" y="597.5" font-size="21.5" fill="#f4f01e" stroke="#f4f01e" stroke-width="0.45" textLength="23.73" lengthAdjust="spacingAndGlyphs">g/t</text><text x="1277.50" y="619.6" font-size="21.5" fill="#f4f01e" stroke="#f4f01e" stroke-width="0.45" textLength="32.18" lengthAdjust="spacingAndGlyphs">incl.</text><text x="1315.95" y="619.6" font-size="21.5" fill="#f4f01e" stroke="#f4f01e" stroke-width="0.45" textLength="24.55" lengthAdjust="spacingAndGlyphs">3m</text><text x="1346.78" y="619.3" font-size="17.6" fill="#f4f01e" stroke="#f4f01e" stroke-width="0.85" textLength="12.54" lengthAdjust="spacingAndGlyphs">@</text><text x="1365.58" y="619.6" font-size="21.5" fill="#f4f01e" stroke="#f4f01e" stroke-width="0.45" textLength="23.41" lengthAdjust="spacingAndGlyphs">3.3</text><text x="1395.26" y="619.6" font-size="21.5" fill="#f4f01e" stroke="#f4f01e" stroke-width="0.45" textLength="24.24" lengthAdjust="spacingAndGlyphs">g/t</text>
<rect x="1273.0" y="497.0" width="121.0" height="48.0" fill="#2f6299"/><text x="1278.70" y="516.8" font-size="16.0" fill="#ffffff" stroke="#ffffff" stroke-width="0.45" textLength="34.63" lengthAdjust="spacingAndGlyphs">CNRC</text><text x="1313.33" y="516.8" font-size="16.0" fill="#ffffff" stroke="#ffffff" stroke-width="0.45" textLength="35.37" lengthAdjust="spacingAndGlyphs">19014</text><text x="1278.70" y="538.4" font-size="21.5" fill="#ffffff" stroke="#ffffff" stroke-width="0.45" textLength="25.14" lengthAdjust="spacingAndGlyphs">4m</text><text x="1310.25" y="538.1" font-size="17.6" fill="#ffffff" stroke="#ffffff" stroke-width="0.85" textLength="12.84" lengthAdjust="spacingAndGlyphs">@</text><text x="1329.51" y="538.4" font-size="21.5" fill="#ffffff" stroke="#ffffff" stroke-width="0.45" textLength="23.96" lengthAdjust="spacingAndGlyphs">3.9</text><text x="1359.88" y="538.4" font-size="21.5" fill="#ffffff" stroke="#ffffff" stroke-width="0.45" textLength="24.82" lengthAdjust="spacingAndGlyphs">g/t</text>
<rect x="1273.0" y="439.0" width="115.0" height="49.0" fill="#666666"/><text x="1278.70" y="458.8" font-size="16.0" fill="#d9d9d9" stroke="#d9d9d9" stroke-width="0.45" textLength="33.96" lengthAdjust="spacingAndGlyphs">CNRC</text><text x="1312.66" y="458.8" font-size="16.0" fill="#d9d9d9" stroke="#d9d9d9" stroke-width="0.45" textLength="23.04" lengthAdjust="spacingAndGlyphs">097</text><text x="1278.70" y="480.4" font-size="21.5" fill="#d9d9d9" stroke="#d9d9d9" stroke-width="0.45" textLength="25.14" lengthAdjust="spacingAndGlyphs">8m</text><text x="1310.25" y="480.1" font-size="17.6" fill="#d9d9d9" stroke="#d9d9d9" stroke-width="0.85" textLength="12.84" lengthAdjust="spacingAndGlyphs">@</text><text x="1329.51" y="480.4" font-size="21.5" fill="#d9d9d9" stroke="#d9d9d9" stroke-width="0.45" textLength="23.96" lengthAdjust="spacingAndGlyphs">9.4</text><text x="1359.88" y="480.4" font-size="21.5" fill="#d9d9d9" stroke="#d9d9d9" stroke-width="0.45" textLength="24.82" lengthAdjust="spacingAndGlyphs">g/t</text>
<rect x="1272.0" y="382.0" width="125.0" height="49.0" fill="#2f6299"/><text x="1277.50" y="401.8" font-size="16.0" fill="#ffffff" stroke="#ffffff" stroke-width="0.45" textLength="34.68" lengthAdjust="spacingAndGlyphs">CNRC</text><text x="1312.18" y="401.8" font-size="16.0" fill="#ffffff" stroke="#ffffff" stroke-width="0.45" textLength="37.32" lengthAdjust="spacingAndGlyphs">19002</text><text x="1277.50" y="423.4" font-size="21.5" fill="#ffffff" stroke="#ffffff" stroke-width="0.45" textLength="32.63" lengthAdjust="spacingAndGlyphs">10m</text><text x="1316.51" y="423.1" font-size="17.6" fill="#ffffff" stroke="#ffffff" stroke-width="0.85" textLength="12.76" lengthAdjust="spacingAndGlyphs">@</text><text x="1335.65" y="423.4" font-size="21.5" fill="#ffffff" stroke="#ffffff" stroke-width="0.45" textLength="23.81" lengthAdjust="spacingAndGlyphs">8.0</text><text x="1365.84" y="423.4" font-size="21.5" fill="#ffffff" stroke="#ffffff" stroke-width="0.45" textLength="24.66" lengthAdjust="spacingAndGlyphs">g/t</text>
<rect x="1271.3" y="322.8" width="116.2" height="49.2" fill="#2f6299"/><text x="1278.00" y="342.6" font-size="16.0" fill="#ffffff" stroke="#ffffff" stroke-width="0.45" textLength="34.68" lengthAdjust="spacingAndGlyphs">CNRC</text><text x="1312.68" y="342.6" font-size="16.0" fill="#ffffff" stroke="#ffffff" stroke-width="0.45" textLength="37.32" lengthAdjust="spacingAndGlyphs">19002</text><text x="1278.00" y="364.2" font-size="21.5" fill="#ffffff" stroke="#ffffff" stroke-width="0.45" textLength="24.28" lengthAdjust="spacingAndGlyphs">3m</text><text x="1308.48" y="363.9" font-size="17.6" fill="#ffffff" stroke="#ffffff" stroke-width="0.85" textLength="12.40" lengthAdjust="spacingAndGlyphs">@</text><text x="1327.07" y="364.2" font-size="21.5" fill="#ffffff" stroke="#ffffff" stroke-width="0.45" textLength="20.76" lengthAdjust="spacingAndGlyphs">3.1</text><text x="1354.03" y="364.2" font-size="21.5" fill="#ffffff" stroke="#ffffff" stroke-width="0.45" textLength="23.97" lengthAdjust="spacingAndGlyphs">g/t</text>
<rect x="1271.3" y="241.2" width="153.2" height="74.1" fill="#2f6299"/><text x="1278.30" y="262.1" font-size="16.0" fill="#ffffff" stroke="#ffffff" stroke-width="0.45" textLength="34.13" lengthAdjust="spacingAndGlyphs">CNRC</text><text x="1312.43" y="262.1" font-size="16.0" fill="#ffffff" stroke="#ffffff" stroke-width="0.45" textLength="34.87" lengthAdjust="spacingAndGlyphs">19012</text><text x="1278.30" y="283.7" font-size="21.5" fill="#ffffff" stroke="#ffffff" stroke-width="0.45" textLength="24.42" lengthAdjust="spacingAndGlyphs">5m</text><text x="1308.96" y="283.4" font-size="17.6" fill="#ffffff" stroke="#ffffff" stroke-width="0.85" textLength="12.47" lengthAdjust="spacingAndGlyphs">@</text><text x="1327.67" y="283.7" font-size="21.5" fill="#ffffff" stroke="#ffffff" stroke-width="0.45" textLength="23.28" lengthAdjust="spacingAndGlyphs">3.3</text><text x="1357.19" y="283.7" font-size="21.5" fill="#ffffff" stroke="#ffffff" stroke-width="0.45" textLength="24.11" lengthAdjust="spacingAndGlyphs">g/t</text><text x="1278.30" y="305.8" font-size="21.5" fill="#ffffff" stroke="#ffffff" stroke-width="0.45" textLength="31.73" lengthAdjust="spacingAndGlyphs">incl.</text><text x="1316.21" y="305.8" font-size="21.5" fill="#ffffff" stroke="#ffffff" stroke-width="0.45" textLength="24.21" lengthAdjust="spacingAndGlyphs">2m</text><text x="1346.60" y="305.5" font-size="17.6" fill="#ffffff" stroke="#ffffff" stroke-width="0.85" textLength="12.36" lengthAdjust="spacingAndGlyphs">@</text><text x="1365.14" y="305.8" font-size="21.5" fill="#ffffff" stroke="#ffffff" stroke-width="0.45" textLength="23.08" lengthAdjust="spacingAndGlyphs">7.7</text><text x="1394.40" y="305.8" font-size="21.5" fill="#ffffff" stroke="#ffffff" stroke-width="0.45" textLength="23.90" lengthAdjust="spacingAndGlyphs">g/t</text>
<rect x="160" y="76" width="1175" height="12" fill="url(#shaft)" stroke="#000" stroke-width="1.6"/>
<rect x="160" y="79.5" width="1175" height="2.2" fill="#fff" opacity="0.18"/>
<polygon points="126,82 193,69.5 193,94.5" fill="#000"/>
<polygon points="1369,82 1302,69.5 1302,94.5" fill="#000"/>
<polygon points="140,81 193,73.5 193,79" fill="#555" opacity="0.55"/>
<polygon points="1355,81 1302,73.5 1302,79" fill="#555" opacity="0.55"/>
<g font-weight="bold"><text x="711.7" y="71.2" font-size="29.0" fill="#fff" font-weight="bold" text-anchor="start" textLength="71.7" lengthAdjust="spacingAndGlyphs" stroke="#fff" stroke-width="3.5" filter="url(#glow)">1200m</text><text x="711.7" y="71.2" font-size="29.0" fill="#000" font-weight="bold" text-anchor="start" textLength="71.7" lengthAdjust="spacingAndGlyphs" stroke="#fff" stroke-width="1.6" paint-order="stroke">1200m</text></g>
<text x="17.5" y="61.9" font-size="33.2" fill="#626262" font-weight="bold" text-anchor="start" textLength="74.4" lengthAdjust="spacingAndGlyphs" >South</text>
<text x="1349.8" y="61.9" font-size="33.2" fill="#626262" font-weight="bold" text-anchor="start" textLength="73.4" lengthAdjust="spacingAndGlyphs" >North</text>
<rect x="139.6" y="4.6" width="2.4" height="11.2" fill="#505a62"/>
<text x="99.2" y="34.2" font-size="19.0" fill="#505a62" font-weight="normal" text-anchor="start" textLength="83.0" lengthAdjust="spacingAndGlyphs" >6,665,000N</text>
<rect x="139.7" y="947.5" width="2.2" height="13" fill="#3c4043"/>
<text x="99.3" y="940.8" font-size="19.5" fill="#3c4043" font-weight="normal" text-anchor="start" textLength="82.3" lengthAdjust="spacingAndGlyphs" >6,665,000N</text>
<rect x="642.8" y="4.6" width="2.4" height="11.2" fill="#505a62"/>
<text x="602.4" y="34.2" font-size="19.0" fill="#505a62" font-weight="normal" text-anchor="start" textLength="83.0" lengthAdjust="spacingAndGlyphs" >6,665,500N</text>
<rect x="642.9" y="947.5" width="2.2" height="13" fill="#3c4043"/>
<text x="602.5" y="940.8" font-size="19.5" fill="#3c4043" font-weight="normal" text-anchor="start" textLength="82.3" lengthAdjust="spacingAndGlyphs" >6,665,500N</text>
<rect x="1144.3" y="4.6" width="2.4" height="11.2" fill="#505a62"/>
<text x="1103.9" y="34.2" font-size="19.0" fill="#505a62" font-weight="normal" text-anchor="start" textLength="83.0" lengthAdjust="spacingAndGlyphs" >6,666,000N</text>
<rect x="1144.4" y="947.5" width="2.2" height="13" fill="#3c4043"/>
<text x="1104.0" y="940.8" font-size="19.5" fill="#3c4043" font-weight="normal" text-anchor="start" textLength="82.3" lengthAdjust="spacingAndGlyphs" >6,666,000N</text>
<path d="M470.0 35V12.9H486.25V8.6L496.7 15.6L486.25 22.9V17.9H476.7V35Z" fill="#33587f"/><text x="502.9" y="31.3" font-size="26.8" fill="#2b4a6c" font-weight="bold" text-anchor="start" textLength="10.9" lengthAdjust="spacingAndGlyphs" stroke="#fff" stroke-width="5.5" paint-order="stroke" stroke-linejoin="round">B</text>
<path d="M745.0 35V12.9H761.25V8.6L771.7 15.6L761.25 22.9V17.9H751.7V35Z" fill="#33587f"/><text x="775.4" y="31.3" font-size="26.8" fill="#2b4a6c" font-weight="bold" text-anchor="start" textLength="13.8" lengthAdjust="spacingAndGlyphs" stroke="#fff" stroke-width="5.5" paint-order="stroke" stroke-linejoin="round">A</text>
<path d="M470.0 928.3V950.8H486.25V954.6L496.7 947.7L486.25 940.8V944.6H476.7V928.3Z" fill="#2b4a6c"/><text x="501.2" y="955.0" font-size="24.5" fill="#2b4a6c" font-weight="bold" text-anchor="start" textLength="15.5" lengthAdjust="spacingAndGlyphs" >B'</text>
<path d="M746.0 928.3V950.8H762.25V954.6L772.7 947.7L762.25 940.8V944.6H752.7V928.3Z" fill="#2b4a6c"/><text x="777.2" y="955.0" font-size="24.5" fill="#2b4a6c" font-weight="bold" text-anchor="start" textLength="17.0" lengthAdjust="spacingAndGlyphs" >A'</text>
<rect x="2.6" y="197.5" width="10.3" height="3" fill="#414d57"/>
<text x="15.8" y="205.8" font-size="16.5" fill="#414d57" font-weight="normal" text-anchor="start" textLength="19.2" lengthAdjust="spacingAndGlyphs" >0m</text>
<rect x="1429.5" y="197.0" width="10.5" height="3" fill="#414d57"/>
<text x="1427.2" y="204.7" font-size="16.5" fill="#414d57" font-weight="normal" text-anchor="end" textLength="19.2" lengthAdjust="spacingAndGlyphs" >0m</text>
<rect x="2.6" y="443.5" width="10.3" height="3" fill="#414d57"/>
<text x="15.8" y="451.8" font-size="16.5" fill="#414d57" font-weight="normal" text-anchor="start" textLength="36.4" lengthAdjust="spacingAndGlyphs" >200m</text>
<rect x="1429.5" y="442.0" width="10.5" height="3" fill="#414d57"/>
<text x="1427.2" y="449.7" font-size="16.5" fill="#414d57" font-weight="normal" text-anchor="end" textLength="36.4" lengthAdjust="spacingAndGlyphs" >200m</text>
<rect x="2.6" y="688.0" width="10.3" height="3" fill="#414d57"/>
<text x="15.8" y="696.3" font-size="16.5" fill="#414d57" font-weight="normal" text-anchor="start" textLength="36.4" lengthAdjust="spacingAndGlyphs" >400m</text>
<rect x="1429.5" y="686.5" width="10.5" height="3" fill="#414d57"/>
<text x="1427.2" y="694.2" font-size="16.5" fill="#414d57" font-weight="normal" text-anchor="end" textLength="36.4" lengthAdjust="spacingAndGlyphs" >400m</text>
<rect x="2.6" y="931.5" width="10.3" height="3" fill="#414d57"/>
<text x="15.8" y="939.8" font-size="16.5" fill="#414d57" font-weight="normal" text-anchor="start" textLength="36.4" lengthAdjust="spacingAndGlyphs" >600m</text>
<rect x="1429.5" y="931.8" width="10.5" height="3" fill="#414d57"/>
<text x="1427.2" y="939.5" font-size="16.5" fill="#414d57" font-weight="normal" text-anchor="end" textLength="36.4" lengthAdjust="spacingAndGlyphs" >600m</text>
<polygon points="718,150 738,150 730.3,266" fill="#4a4a4a"/>
<rect x="587.8" y="107.8" width="234" height="43.9" fill="#4a4a4a"/>
<text x="597.4" y="138.3" font-size="25.4" fill="#fff" font-weight="normal" text-anchor="start" textLength="217.0" lengthAdjust="spacingAndGlyphs" >Underground Workings</text>
<polygon points="1042,152 1063,152 1053.4,237.5" fill="#4a4a4a"/>
<rect x="993" y="110" width="120.7" height="43.5" fill="#4a4a4a"/>
<text x="1007.8" y="141.3" font-size="25.4" fill="#fff" font-weight="normal" text-anchor="start" textLength="93.7" lengthAdjust="spacingAndGlyphs" >Callion Pit</text>
<rect x="769" y="906" width="250" height="8.6" fill="#4d4d4d"/>
<text x="893.5" y="870.0" font-size="26.0" fill="#4a4a4a" font-weight="normal" text-anchor="middle" textLength="39.0" lengthAdjust="spacingAndGlyphs" >250</text>
<text x="893.0" y="895.5" font-size="20.5" fill="#4a4a4a" font-weight="normal" text-anchor="middle" textLength="59.0" lengthAdjust="spacingAndGlyphs" >Metres</text>
<text x="54.0" y="823.8" font-size="36.0" fill="#ec6a4a" font-weight="bold" text-anchor="start" textLength="76.0" lengthAdjust="spacingAndGlyphs" stroke="#ec6a4a" stroke-width="1.3">Open</text>
<polygon points="140.6,813.9 145.3,782 150,791.7 166.1,778.9 175.8,797.2 161.1,811.1 165.9,820.9" fill="#ec6a4a"/>
<text x="1438.5" y="957.0" font-size="10.5" fill="#333" font-weight="normal" text-anchor="end" textLength="97.0" lengthAdjust="spacingAndGlyphs" >CAL-P00001CB-J00003</text>
<rect x="1069" y="649" width="319.5" height="272.5" fill="#2a3a2a" opacity="0.5" filter="url(#sh3)"/>
<rect x="1067.7" y="647.1" width="315.5" height="268.8" fill="#f4f4f4" stroke="#4d4d4d" stroke-width="4.2"/>
<text x="1223.5" y="670.6" font-size="20.0" fill="#454545" font-weight="bold" text-anchor="middle" textLength="68.0" lengthAdjust="spacingAndGlyphs" >LEGEND</text>
<text x="1088.8" y="691.3" font-size="18.3" fill="#454545" font-weight="bold" text-anchor="start" textLength="118.8" lengthAdjust="spacingAndGlyphs" >Sample Interval</text>
<text x="1081.2" y="708.9" font-size="18.3" fill="#454545" font-weight="bold" text-anchor="start" textLength="133.8" lengthAdjust="spacingAndGlyphs" >(Au Gram Metres)</text>
<ellipse cx="1093.1" cy="724.7" rx="5" ry="5.95" fill="#1c7cf4"/>
<text x="1116.0" y="730.1" font-size="15.9" fill="#454545" font-weight="normal" text-anchor="start" textLength="27.0" lengthAdjust="spacingAndGlyphs" >1 - 2</text>
<ellipse cx="1093.1" cy="746.8" rx="5" ry="5.95" fill="#1aef1a"/>
<text x="1116.0" y="752.1" font-size="15.9" fill="#454545" font-weight="normal" text-anchor="start" textLength="28.0" lengthAdjust="spacingAndGlyphs" >2 - 5</text>
<ellipse cx="1093.1" cy="768.8" rx="5" ry="5.95" fill="#f2a63a"/>
<text x="1116.0" y="774.2" font-size="15.9" fill="#454545" font-weight="normal" text-anchor="start" textLength="36.5" lengthAdjust="spacingAndGlyphs" >5 - 10</text>
<ellipse cx="1093.1" cy="790.9" rx="5" ry="5.95" fill="#ff0a0a"/>
<text x="1116.0" y="796.2" font-size="15.9" fill="#454545" font-weight="normal" text-anchor="start" textLength="44.5" lengthAdjust="spacingAndGlyphs" >10 - 20</text>
<ellipse cx="1093.1" cy="812.9" rx="5" ry="5.95" fill="#a81ae8"/>
<text x="1116.0" y="818.3" font-size="15.9" fill="#454545" font-weight="normal" text-anchor="start" textLength="26.5" lengthAdjust="spacingAndGlyphs" >&gt;20</text>
<rect x="1074.5" y="834" width="33.5" height="20.5" fill="#ffcdcd" stroke="#d8262c" stroke-width="1.3" stroke-dasharray="6 3"/>
<text x="1115.0" y="848.6" font-size="15.5" fill="#454545" font-weight="normal" text-anchor="start" textLength="106.5" lengthAdjust="spacingAndGlyphs" >Mineralised Trend</text>
<text x="1115.0" y="876.0" font-size="15.5" fill="#454545" font-weight="normal" text-anchor="start" textLength="56.6" lengthAdjust="spacingAndGlyphs" >Drill Hole</text>
<text x="1115.0" y="890.8" font-size="15.5" fill="#454545" font-weight="normal" text-anchor="start" textLength="70.5" lengthAdjust="spacingAndGlyphs" >pierce point</text>
<text x="1115.0" y="906.0" font-size="15.5" fill="#454545" font-weight="normal" text-anchor="start" textLength="99.6" lengthAdjust="spacingAndGlyphs" >- results pending</text>
<g stroke="#2a22cc" stroke-width="0.9" fill="#eef"><circle cx="1091.5" cy="887.7" r="4.8"/><path d="M1089.3 885.5L1093.7 889.9M1089.3 889.9L1093.7 885.5" stroke-width="1.1"/></g>
<rect x="1240" y="696.9" width="119.4" height="33.1" fill="#2b4a6c"/>
<text x="1255.60" y="721.0" font-size="22.2" fill="#f4f01e" stroke="#f4f01e" stroke-width="0.05" textLength="24.98" lengthAdjust="spacingAndGlyphs">8m</text><text x="1286.96" y="720.7" font-size="18.2" fill="#f4f01e" stroke="#f4f01e" stroke-width="0.45" textLength="12.76" lengthAdjust="spacingAndGlyphs">@</text><text x="1306.09" y="721.0" font-size="22.2" fill="#f4f01e" stroke="#f4f01e" stroke-width="0.05" textLength="33.91" lengthAdjust="spacingAndGlyphs">20.2</text>
<text x="1300.0" y="746.4" font-size="15.4" fill="#454545" font-weight="normal" text-anchor="middle" textLength="123.8" lengthAdjust="spacingAndGlyphs" >OBM mineralised Au</text>
<text x="1300.3" y="762.5" font-size="15.4" fill="#454545" font-weight="normal" text-anchor="middle" textLength="135.6" lengthAdjust="spacingAndGlyphs" >interval current drilling</text>
<rect x="1240.3" y="775.6" width="116.9" height="32.8" fill="#2f6299"/>
<text x="1247.40" y="800.5" font-size="22.2" fill="#fff" stroke="#fff" stroke-width="0.05" textLength="39.52" lengthAdjust="spacingAndGlyphs">4.8m</text><text x="1293.43" y="800.2" font-size="18.2" fill="#fff" stroke="#fff" stroke-width="0.45" textLength="13.03" lengthAdjust="spacingAndGlyphs">@</text><text x="1312.97" y="800.5" font-size="22.2" fill="#fff" stroke="#fff" stroke-width="0.05" textLength="34.63" lengthAdjust="spacingAndGlyphs">34.4</text>
<text x="1299.0" y="823.8" font-size="15.4" fill="#454545" font-weight="normal" text-anchor="middle" textLength="94.3" lengthAdjust="spacingAndGlyphs" >OBM previously</text>
<text x="1298.8" y="839.8" font-size="15.4" fill="#454545" font-weight="normal" text-anchor="middle" textLength="119.5" lengthAdjust="spacingAndGlyphs" >reported Au interval</text>
<rect x="1239.7" y="853.4" width="119.9" height="33.1" fill="#666666"/>
<text x="1259.70" y="877.1" font-size="22.2" fill="#d9d9d9" stroke="#d9d9d9" stroke-width="0.05" textLength="23.47" lengthAdjust="spacingAndGlyphs">5m</text><text x="1289.16" y="876.8" font-size="18.2" fill="#d9d9d9" stroke="#d9d9d9" stroke-width="0.45" textLength="11.98" lengthAdjust="spacingAndGlyphs">@</text><text x="1307.14" y="877.1" font-size="22.2" fill="#d9d9d9" stroke="#d9d9d9" stroke-width="0.05" textLength="29.56" lengthAdjust="spacingAndGlyphs">70.1</text>
<text x="1299.5" y="904.7" font-size="15.4" fill="#454545" font-weight="normal" text-anchor="middle" textLength="124.0" lengthAdjust="spacingAndGlyphs" >Historical Au interval</text>
</svg></body></html>
